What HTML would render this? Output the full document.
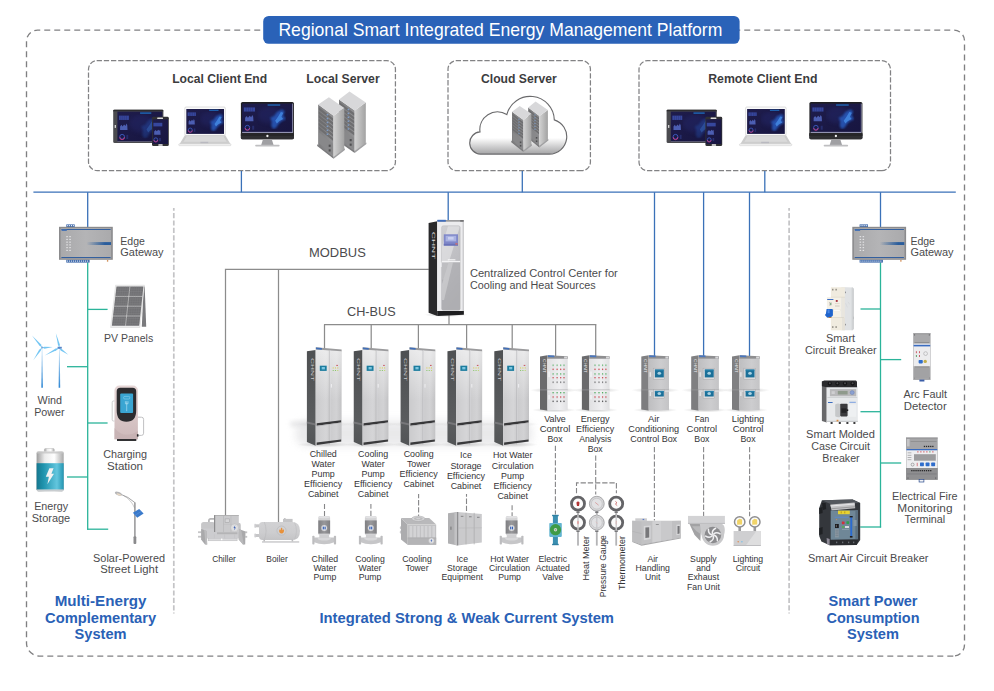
<!DOCTYPE html>
<html lang="en">
<head>
<meta charset="utf-8">
<title>Regional Smart Integrated Energy Management Platform</title>
<style>
html,body{margin:0;padding:0;background:#fff;}
body{width:994px;height:691px;overflow:hidden;font-family:"Liberation Sans",sans-serif;}
svg{display:block;}
svg text{font-family:"Liberation Sans",sans-serif;}
</style>
</head>
<body>
<svg width="994" height="691" viewBox="0 0 994 691">
<defs>
<linearGradient id="gCloud" x1="0" y1="0" x2="0" y2="1"><stop offset="0" stop-color="#fff"/><stop offset="0.72" stop-color="#fff"/><stop offset="1" stop-color="#a4a4a6"/></linearGradient>
<linearGradient id="gSrvR" x1="0" y1="0" x2="1" y2="0"><stop offset="0" stop-color="#d2d2d2"/><stop offset="1" stop-color="#a2a2a2"/></linearGradient>
<linearGradient id="gSrvL" x1="0" y1="0" x2="1" y2="0"><stop offset="0" stop-color="#7c7c7e"/><stop offset="1" stop-color="#929294"/></linearGradient>
<linearGradient id="gScreen" x1="0" y1="0" x2="1" y2="1"><stop offset="0" stop-color="#1f1d4c"/><stop offset="1" stop-color="#171540"/></linearGradient>
<radialGradient id="gGlow" cx="0.5" cy="0.5" r="0.5"><stop offset="0" stop-color="#3c7fe0" stop-opacity="0.95"/><stop offset="0.6" stop-color="#2b55b5" stop-opacity="0.5"/><stop offset="1" stop-color="#1f1d4c" stop-opacity="0"/></radialGradient>
<linearGradient id="gGwBar" x1="0" y1="0" x2="1" y2="0"><stop offset="0" stop-color="#2a5d9c" stop-opacity="0"/><stop offset="0.75" stop-color="#2a5d9c" stop-opacity="1"/><stop offset="1" stop-color="#2a5d9c"/></linearGradient>
<linearGradient id="gGw" x1="0" y1="0" x2="1" y2="0"><stop offset="0" stop-color="#a9a9ab"/><stop offset="0.5" stop-color="#b4b4b6"/><stop offset="1" stop-color="#aaaaac"/></linearGradient>
<linearGradient id="gPole" x1="0" y1="0" x2="0" y2="1"><stop offset="0" stop-color="#d8ecfa"/><stop offset="1" stop-color="#2f87d4"/></linearGradient>
<linearGradient id="gBatt" x1="0" y1="0" x2="1" y2="0"><stop offset="0" stop-color="#16778f"/><stop offset="0.25" stop-color="#1f93ad"/><stop offset="0.75" stop-color="#63c6de"/><stop offset="1" stop-color="#2395b1"/></linearGradient>
<linearGradient id="gBattTop" x1="0" y1="0" x2="1" y2="0"><stop offset="0" stop-color="#9c9c9c"/><stop offset="0.3" stop-color="#ececec"/><stop offset="0.65" stop-color="#ffffff"/><stop offset="1" stop-color="#a8a8a8"/></linearGradient>
<linearGradient id="gCharge" x1="0" y1="0" x2="0" y2="1"><stop offset="0" stop-color="#e6d6d6"/><stop offset="1" stop-color="#cdb9ba"/></linearGradient>
<linearGradient id="gCabF" x1="0" y1="0" x2="1" y2="0"><stop offset="0" stop-color="#cbcbcd"/><stop offset="0.4" stop-color="#d5d5d7"/><stop offset="0.55" stop-color="#cbcbcd"/><stop offset="0.8" stop-color="#d2d2d4"/><stop offset="1" stop-color="#c2c2c4"/></linearGradient>
<linearGradient id="gCabS" x1="0" y1="0" x2="0" y2="1"><stop offset="0" stop-color="#4e5052"/><stop offset="0.75" stop-color="#5a5c5e"/><stop offset="1" stop-color="#525456"/></linearGradient>
<linearGradient id="gBoxF" x1="0" y1="0" x2="1" y2="0"><stop offset="0" stop-color="#e0e0e2"/><stop offset="0.6" stop-color="#efeff1"/><stop offset="1" stop-color="#e0e0e2"/></linearGradient>
<linearGradient id="gBoxB" x1="0" y1="0" x2="1" y2="0"><stop offset="0" stop-color="#bebec0"/><stop offset="0.6" stop-color="#cdcdcf"/><stop offset="1" stop-color="#c4c4c6"/></linearGradient>
<radialGradient id="gShadow" cx="0.5" cy="0.5" r="0.5"><stop offset="0" stop-color="#9a9a9a" stop-opacity="0.55"/><stop offset="1" stop-color="#9a9a9a" stop-opacity="0"/></radialGradient>
<linearGradient id="gCent" x1="0" y1="0" x2="0.3" y2="1"><stop offset="0" stop-color="#d0d0d3"/><stop offset="0.4" stop-color="#c2c2c6"/><stop offset="1" stop-color="#b4b4b8"/></linearGradient>
<linearGradient id="gCyl" x1="0" y1="0" x2="0" y2="1"><stop offset="0" stop-color="#d2d2d4"/><stop offset="0.6" stop-color="#cdcdcf"/><stop offset="1" stop-color="#c4c4c6"/></linearGradient>
<linearGradient id="gMotor" x1="0" y1="0" x2="1" y2="0"><stop offset="0" stop-color="#7f7f82"/><stop offset="0.5" stop-color="#98989b"/><stop offset="1" stop-color="#808083"/></linearGradient>
<linearGradient id="gSilver" x1="0" y1="0" x2="0" y2="1"><stop offset="0" stop-color="#d8d8d8"/><stop offset="1" stop-color="#a8a8a8"/></linearGradient>
<filter id="fBlur0" x="-30%" y="-30%" width="160%" height="160%"><feGaussianBlur stdDeviation="0.5"/></filter>
<filter id="fBlur1" x="-30%" y="-30%" width="160%" height="160%"><feGaussianBlur stdDeviation="1.0"/></filter>
<filter id="fBlur2" x="-40%" y="-40%" width="180%" height="180%"><feGaussianBlur stdDeviation="2.2"/></filter>
<linearGradient id="gHi" x1="0" y1="0" x2="0" y2="1"><stop offset="0" stop-color="#fff" stop-opacity="0.55"/><stop offset="1" stop-color="#fff" stop-opacity="0"/></linearGradient>
<filter id="fBlur3" x="-20%" y="-60%" width="140%" height="220%"><feGaussianBlur stdDeviation="4.5"/></filter>
</defs>
<path d="M953.3,656.1 H39.5 A13,13 0 0 1 26.5,643.1 V41.1 A11,11 0 0 1 37.5,30.1 H953.8 A10.7,10.7 0 0 1 964.5,40.8 V644.6 A11.5,11.5 0 0 1 954.8,656" fill="none" stroke="#808082" stroke-width="1.35" stroke-dasharray="6 4"/>
<rect x="263.2" y="16" width="476.4" height="27.8" rx="5.5" fill="#2a62b8"/>
<text x="278.4" y="36" font-size="19" text-anchor="start" fill="#fff" textLength="444.0" lengthAdjust="spacingAndGlyphs">Regional Smart Integrated Energy Management Platform</text>
<path d="M386.73,170.67 H97.20 A8.7,8.7 0 0 1 88.5,161.97 V69.30 A8.7,8.7 0 0 1 97.20,60.6 H386.73 A8.7,8.7 0 0 1 395.43,69.30 V161.97 A8.7,8.7 0 0 1 386.73,170.67" fill="none" stroke="#828284" stroke-width="1.25" stroke-dasharray="5.3 1.872"/>
<path d="M581.72,170.67 H456.70 A8.7,8.7 0 0 1 448.0,161.97 V69.30 A8.7,8.7 0 0 1 456.70,60.6 H581.72 A8.7,8.7 0 0 1 590.42,69.30 V161.97 A8.7,8.7 0 0 1 581.72,170.67" fill="none" stroke="#828284" stroke-width="1.25" stroke-dasharray="5.3 1.872"/>
<path d="M881.80,170.67 H647.70 A8.7,8.7 0 0 1 639.0,161.97 V69.30 A8.7,8.7 0 0 1 647.70,60.6 H881.80 A8.7,8.7 0 0 1 890.5,69.30 V161.97 A8.7,8.7 0 0 1 881.80,170.67" fill="none" stroke="#828284" stroke-width="1.25" stroke-dasharray="5.3 1.872"/>
<text x="172.2" y="83" font-size="13" text-anchor="start" fill="#3c3c3e" font-weight="bold" textLength="95.0" lengthAdjust="spacingAndGlyphs">Local Client End</text>
<text x="306.2" y="83" font-size="13" text-anchor="start" fill="#3c3c3e" font-weight="bold" textLength="73.5" lengthAdjust="spacingAndGlyphs">Local Server</text>
<text x="481.0" y="83" font-size="13" text-anchor="start" fill="#3c3c3e" font-weight="bold" textLength="75.7" lengthAdjust="spacingAndGlyphs">Cloud Server</text>
<text x="708.2" y="83" font-size="13" text-anchor="start" fill="#3c3c3e" font-weight="bold" textLength="109.3" lengthAdjust="spacingAndGlyphs">Remote Client End</text>
<line x1="33.4" y1="192.2" x2="955.8" y2="192.2" stroke="#3a71b8" stroke-width="1.3"/>
<line x1="241.4" y1="171.0" x2="241.4" y2="192.2" stroke="#3a71b8" stroke-width="1.3"/>
<line x1="522.3" y1="171.0" x2="522.3" y2="192.2" stroke="#3a71b8" stroke-width="1.3"/>
<line x1="764.8" y1="171.0" x2="764.8" y2="192.2" stroke="#3a71b8" stroke-width="1.3"/>
<line x1="87.7" y1="192.2" x2="87.7" y2="227.0" stroke="#3a71b8" stroke-width="1.3"/>
<line x1="880.5" y1="192.2" x2="880.5" y2="227.0" stroke="#3a71b8" stroke-width="1.3"/>
<line x1="448.2" y1="192.2" x2="448.2" y2="221.0" stroke="#3a71b8" stroke-width="1.3"/>
<line x1="654.5" y1="192.2" x2="654.5" y2="356.5" stroke="#3a71b8" stroke-width="1.3"/>
<line x1="703.6" y1="192.2" x2="703.6" y2="356.5" stroke="#3a71b8" stroke-width="1.3"/>
<line x1="749.5" y1="192.2" x2="749.5" y2="356.5" stroke="#3a71b8" stroke-width="1.3"/>
<line x1="173.8" y1="208.0" x2="173.8" y2="613.5" stroke="#c4c4c6" stroke-width="1.7" stroke-dasharray="5.2 2.2" stroke-dashoffset="2.4"/>
<line x1="789.1" y1="208.0" x2="789.1" y2="613.5" stroke="#c4c4c6" stroke-width="1.7" stroke-dasharray="5.2 2.2" stroke-dashoffset="2.4"/>
<line x1="87.7" y1="262.5" x2="87.7" y2="529.8" stroke="#2bb49a" stroke-width="1.3"/>
<line x1="87.7" y1="309.4" x2="107.6" y2="309.4" stroke="#2bb49a" stroke-width="1.3"/>
<line x1="67.0" y1="366.7" x2="87.7" y2="366.7" stroke="#2bb49a" stroke-width="1.3"/>
<line x1="87.7" y1="423.0" x2="107.6" y2="423.0" stroke="#2bb49a" stroke-width="1.3"/>
<line x1="67.0" y1="477.0" x2="87.7" y2="477.0" stroke="#2bb49a" stroke-width="1.3"/>
<line x1="87.1" y1="529.2" x2="108.2" y2="529.2" stroke="#2bb49a" stroke-width="1.3"/>
<line x1="880.5" y1="262.5" x2="880.5" y2="527.6" stroke="#2bb49a" stroke-width="1.3"/>
<line x1="860.5" y1="309.0" x2="880.5" y2="309.0" stroke="#2bb49a" stroke-width="1.3"/>
<line x1="880.5" y1="359.6" x2="901.2" y2="359.6" stroke="#2bb49a" stroke-width="1.3"/>
<line x1="860.5" y1="411.7" x2="880.5" y2="411.7" stroke="#2bb49a" stroke-width="1.3"/>
<line x1="880.5" y1="463.0" x2="901.2" y2="463.0" stroke="#2bb49a" stroke-width="1.3"/>
<line x1="860.2" y1="527.0" x2="881.1" y2="527.0" stroke="#2bb49a" stroke-width="1.3"/>
<polyline points="225.5,515.5 225.5,269.4 428.8,269.4" fill="none" stroke="#8c8c8c" stroke-width="1.25"/>
<line x1="278.5" y1="269.4" x2="278.5" y2="522.0" stroke="#8c8c8c" stroke-width="1.25"/>
<line x1="324.0" y1="324.5" x2="596.3" y2="324.5" stroke="#8c8c8c" stroke-width="1.25"/>
<line x1="324.5" y1="324.5" x2="324.5" y2="349.0" stroke="#8c8c8c" stroke-width="1.25"/>
<line x1="371.2" y1="324.5" x2="371.2" y2="349.0" stroke="#8c8c8c" stroke-width="1.25"/>
<line x1="418.4" y1="324.5" x2="418.4" y2="349.0" stroke="#8c8c8c" stroke-width="1.25"/>
<line x1="466.6" y1="324.5" x2="466.6" y2="349.0" stroke="#8c8c8c" stroke-width="1.25"/>
<line x1="512.2" y1="324.5" x2="512.2" y2="349.0" stroke="#8c8c8c" stroke-width="1.25"/>
<line x1="555.6" y1="324.5" x2="555.6" y2="356.5" stroke="#8c8c8c" stroke-width="1.25"/>
<line x1="595.7" y1="324.5" x2="595.7" y2="356.5" stroke="#8c8c8c" stroke-width="1.25"/>
<line x1="449.0" y1="315.0" x2="449.0" y2="324.5" stroke="#8c8c8c" stroke-width="1.25"/>
<text x="309.0" y="257" font-size="13.5" text-anchor="start" fill="#4b4b4d" textLength="56.8" lengthAdjust="spacingAndGlyphs">MODBUS</text>
<text x="347.0" y="316" font-size="13.5" text-anchor="start" fill="#4b4b4d" textLength="48.6" lengthAdjust="spacingAndGlyphs">CH-BUS</text>
<text x="469.9" y="277" font-size="11.7" text-anchor="start" fill="#4b4b4d" textLength="147.9" lengthAdjust="spacingAndGlyphs">Centralized Control Center for</text>
<text x="469.9" y="289" font-size="11.7" text-anchor="start" fill="#4b4b4d" textLength="125.8" lengthAdjust="spacingAndGlyphs">Cooling and Heat Sources</text>
<text x="100.6" y="606" font-size="15" text-anchor="middle" fill="#2a61b6" font-weight="bold" textLength="91.8" lengthAdjust="spacingAndGlyphs">Multi-Energy</text>
<text x="100.6" y="623" font-size="15" text-anchor="middle" fill="#2a61b6" font-weight="bold" textLength="111.1" lengthAdjust="spacingAndGlyphs">Complementary</text>
<text x="100.6" y="639" font-size="15" text-anchor="middle" fill="#2a61b6" font-weight="bold" textLength="52.0" lengthAdjust="spacingAndGlyphs">System</text>
<text x="873.0" y="606" font-size="15" text-anchor="middle" fill="#2a61b6" font-weight="bold" textLength="89.0" lengthAdjust="spacingAndGlyphs">Smart Power</text>
<text x="873.0" y="623" font-size="15" text-anchor="middle" fill="#2a61b6" font-weight="bold" textLength="93.0" lengthAdjust="spacingAndGlyphs">Consumption</text>
<text x="873.0" y="639" font-size="15" text-anchor="middle" fill="#2a61b6" font-weight="bold" textLength="52.0" lengthAdjust="spacingAndGlyphs">System</text>
<text x="319.4" y="623" font-size="15" text-anchor="start" fill="#2a61b6" font-weight="bold" textLength="294.6" lengthAdjust="spacingAndGlyphs">Integrated Strong &amp; Weak Current System</text>
<rect x="113.20" y="109.8" width="50.2" height="33.3" rx="1.4" fill="#4b4b4f"/>
<rect x="113.20" y="109.8" width="50.2" height="1.4" rx="0.7" fill="#2c2c2e"/>
<rect x="117.40" y="111.60" width="44.90" height="29.80" fill="url(#gScreen)"/>
<g clip-path="inset(0)" >
<svg x="117.40" y="111.60" width="44.90" height="29.80" viewBox="0 0 44.90 29.80" overflow="hidden">
<ellipse cx="24.25" cy="11.92" rx="12.52" ry="8.94" fill="#2a3080" opacity="0.28" filter="url(#fBlur2)"/>
<polygon points="24.87,23.84 25.47,18.48 23.68,14.90 27.85,13.11 30.83,8.94 36.20,5.96 39.18,8.05 37.39,12.52 40.37,16.09 35.60,18.48 32.62,21.46 30.24,25.03 27.26,26.82" fill="#2a66d2" opacity="0.29" filter="url(#fBlur1)"/>
<polygon points="29.05,17.88 32.03,13.71 35.01,8.94 37.69,9.54 35.60,13.71 37.39,16.09 33.22,18.48 30.83,20.86" fill="#4a94ee" opacity="0.28" filter="url(#fBlur0)"/>
</svg></g>
<rect x="140.07" y="112.49" width="11.22" height="1.19" fill="#1f80d8" opacity="0.9"/>
<rect x="118.97" y="115.62" width="9.88" height="4.32" fill="#3a4ca6" opacity="0.9"/>
<rect x="120.80" y="115.62" width="0.30" height="4.32" fill="#232058" opacity="0.8"/>
<rect x="122.77" y="115.62" width="0.30" height="4.32" fill="#232058" opacity="0.8"/>
<rect x="124.75" y="115.62" width="0.30" height="4.32" fill="#232058" opacity="0.8"/>
<rect x="126.72" y="115.62" width="0.30" height="4.32" fill="#232058" opacity="0.8"/>
<polygon points="120.09,130.08 120.09,126.50 121.44,124.71 122.56,126.50 124.14,124.41 125.48,125.90 126.38,123.52 127.28,125.31 127.50,130.08" fill="#5266be" opacity="0.9"/>
<circle cx="122.11" cy="136.78" r="2.38" fill="none" stroke="#3f5fc8" stroke-width="0.89"/>
<path d="M119.73,137.26 a2.38,2.38 0 0 0 4.77,0" fill="none" stroke="#d23a7c" stroke-width="0.89"/>
<rect x="126.38" y="134.84" width="1.80" height="4.17" fill="#2f3a86" opacity="0.6"/>
<rect x="117.40" y="141.00" width="44.90" height="0.60" fill="#6f6f8a"/>
<rect x="114.70" y="125.00" width="1.20" height="2.90" fill="#e4e4e4"/>
<rect x="152.00" y="116.8" width="16.8" height="29.3" rx="1.4" fill="#303033"/>
<rect x="152.80" y="119.30" width="15.20" height="24.70" fill="url(#gScreen)"/>
<rect x="153.40" y="122.80" width="8.90" height="3.60" fill="#3a4ca6" opacity="0.9"/>
<polygon points="154.20,134.70 154.20,131.40 155.60,130.00 156.80,131.20 158.20,129.70 159.40,130.80 160.20,129.80 160.60,134.70" fill="#5266be" opacity="0.9"/>
<circle cx="155.80" cy="139.7" r="1.9" fill="none" stroke="#3f5fc8" stroke-width="0.8"/>
<path d="M153.90,140.1 a1.9,1.9 0 0 0 3.8,0" fill="none" stroke="#d23a7c" stroke-width="0.8"/>
<rect x="159.20" y="138.00" width="1.60" height="3.20" fill="#2f3a86" opacity="0.7"/>
<rect x="157.20" y="117.4" width="5.8" height="1.5" rx="0.5" fill="#d9d9d9"/>
<rect x="158.30" y="144.3" width="4.4" height="1.4" rx="0.5" fill="#f0f0f0"/>
<rect x="184.80" y="107.0" width="40.5" height="28.4" rx="1.2" fill="#fbfbfb" stroke="#cbcbcb" stroke-width="0.6"/>
<rect x="186.30" y="109.00" width="37.70" height="24.90" fill="url(#gScreen)"/>
<g clip-path="inset(0)" >
<svg x="186.30" y="109.00" width="37.70" height="24.90" viewBox="0 0 37.70 24.90" overflow="hidden">
<ellipse cx="24.13" cy="9.96" rx="10.46" ry="7.47" fill="#2a3080" opacity="0.28" filter="url(#fBlur2)"/>
<polygon points="24.68,19.92 25.18,15.44 23.69,12.45 27.17,10.96 29.66,7.47 34.14,4.98 36.63,6.72 35.14,10.46 37.63,13.45 33.65,15.44 31.16,17.93 29.16,20.92 26.67,22.41" fill="#2a66d2" opacity="0.72" filter="url(#fBlur1)"/>
<polygon points="28.17,14.94 30.66,11.45 33.15,7.47 35.39,7.97 33.65,11.45 35.14,13.45 31.65,15.44 29.66,17.43" fill="#4a94ee" opacity="0.70" filter="url(#fBlur0)"/>
</svg></g>
<rect x="209.11" y="109.75" width="9.43" height="1.00" fill="#1f80d8" opacity="0.9"/>
<rect x="187.62" y="112.36" width="8.29" height="3.61" fill="#3a4ca6" opacity="0.9"/>
<rect x="189.13" y="112.36" width="0.30" height="3.61" fill="#232058" opacity="0.8"/>
<rect x="190.79" y="112.36" width="0.30" height="3.61" fill="#232058" opacity="0.8"/>
<rect x="192.45" y="112.36" width="0.30" height="3.61" fill="#232058" opacity="0.8"/>
<rect x="194.10" y="112.36" width="0.30" height="3.61" fill="#232058" opacity="0.8"/>
<polygon points="188.56,124.44 188.56,121.45 189.69,119.96 190.64,121.45 191.96,119.71 193.09,120.95 193.84,118.96 194.59,120.45 194.78,124.44" fill="#5266be" opacity="0.9"/>
<circle cx="190.26" cy="130.04" r="1.99" fill="none" stroke="#3f5fc8" stroke-width="0.75"/>
<path d="M188.27,130.44 a1.99,1.99 0 0 0 3.98,0" fill="none" stroke="#d23a7c" stroke-width="0.75"/>
<rect x="193.84" y="128.42" width="1.51" height="3.49" fill="#2f3a86" opacity="0.6"/>
<polygon points="184.80,135.30 225.30,135.30 230.40,144.00 179.60,144.00" fill="#cdcdcd"/>
<polygon points="186.60,136.60 223.60,136.60 226.60,141.40 183.60,141.40" fill="#e2e2e2"/>
<line x1="185.1" y1="137.8" x2="225.2" y2="137.8" stroke="#c4c4c4" stroke-width="0.4"/>
<line x1="184.3" y1="139.0" x2="225.9" y2="139.0" stroke="#c4c4c4" stroke-width="0.4"/>
<line x1="183.6" y1="140.2" x2="226.7" y2="140.2" stroke="#c4c4c4" stroke-width="0.4"/>
<rect x="200.40" y="141.80" width="7.80" height="1.70" fill="#b9b9c0"/>
<rect x="178.70" y="143.8" width="52.3" height="1.9" rx="0.9" fill="#f4f4f4" stroke="#c6c6c6" stroke-width="0.45"/>
<rect x="240.90" y="102.0" width="53.0" height="37.2" rx="1.6" fill="#1f1f22"/>
<rect x="242.10" y="103.60" width="50.50" height="28.40" fill="url(#gScreen)"/>
<g clip-path="inset(0)" >
<svg x="242.10" y="103.60" width="50.50" height="28.40" viewBox="0 0 50.50 28.40" overflow="hidden">
<ellipse cx="27.27" cy="11.36" rx="11.93" ry="8.52" fill="#2a3080" opacity="0.28" filter="url(#fBlur2)"/>
<polygon points="29.10,22.72 29.67,17.61 27.97,14.20 31.94,12.50 34.78,8.52 39.89,5.68 42.73,7.67 41.03,11.93 43.87,15.34 39.33,17.61 36.49,20.45 34.21,23.86 31.37,25.56" fill="#2a66d2" opacity="0.72" filter="url(#fBlur1)"/>
<polygon points="33.08,17.04 35.92,13.06 38.76,8.52 41.31,9.09 39.33,13.06 41.03,15.34 37.05,17.61 34.78,19.88" fill="#4a94ee" opacity="0.70" filter="url(#fBlur0)"/>
</svg></g>
<rect x="267.60" y="104.45" width="12.62" height="1.14" fill="#1f80d8" opacity="0.9"/>
<rect x="243.87" y="107.43" width="11.11" height="4.12" fill="#3a4ca6" opacity="0.9"/>
<rect x="245.94" y="107.43" width="0.30" height="4.12" fill="#232058" opacity="0.8"/>
<rect x="248.16" y="107.43" width="0.30" height="4.12" fill="#232058" opacity="0.8"/>
<rect x="250.38" y="107.43" width="0.30" height="4.12" fill="#232058" opacity="0.8"/>
<rect x="252.61" y="107.43" width="0.30" height="4.12" fill="#232058" opacity="0.8"/>
<polygon points="245.13,121.21 245.13,117.80 246.64,116.10 247.91,117.80 249.67,115.81 251.19,117.23 252.20,114.96 253.21,116.66 253.46,121.21" fill="#5266be" opacity="0.9"/>
<circle cx="247.40" cy="127.60" r="2.27" fill="none" stroke="#3f5fc8" stroke-width="0.85"/>
<path d="M245.13,128.05 a2.27,2.27 0 0 0 4.54,0" fill="none" stroke="#d23a7c" stroke-width="0.85"/>
<rect x="252.20" y="125.75" width="2.02" height="3.98" fill="#2f3a86" opacity="0.6"/>
<rect x="242.10" y="131.90" width="50.80" height="0.90" fill="#aeb0d6"/>
<rect x="292.40" y="103.60" width="0.60" height="28.80" fill="#b9bbdc"/>
<rect x="240.90" y="133.2" width="53.0" height="6.0" rx="1.2" fill="#2f2f32"/>
<rect x="240.90" y="133.00" width="53.00" height="3.00" fill="#262628"/>
<circle cx="267.40" cy="136.00" r="1.15" fill="#f4f4f4"/>
<polygon points="263.00,139.20 271.80,139.20 273.60,145.00 261.20,145.00" fill="#a0a0a3"/>
<rect x="255.20" y="144.7" width="24.4" height="1.8" rx="0.8" fill="#bfbfc1"/>
<rect x="666.60" y="109.8" width="50.2" height="33.3" rx="1.4" fill="#4b4b4f"/>
<rect x="666.60" y="109.8" width="50.2" height="1.4" rx="0.7" fill="#2c2c2e"/>
<rect x="670.80" y="111.60" width="44.90" height="29.80" fill="url(#gScreen)"/>
<g clip-path="inset(0)" >
<svg x="670.80" y="111.60" width="44.90" height="29.80" viewBox="0 0 44.90 29.80" overflow="hidden">
<ellipse cx="24.25" cy="11.92" rx="12.52" ry="8.94" fill="#2a3080" opacity="0.28" filter="url(#fBlur2)"/>
<polygon points="24.87,23.84 25.47,18.48 23.68,14.90 27.85,13.11 30.83,8.94 36.20,5.96 39.18,8.05 37.39,12.52 40.37,16.09 35.60,18.48 32.62,21.46 30.24,25.03 27.26,26.82" fill="#2a66d2" opacity="0.29" filter="url(#fBlur1)"/>
<polygon points="29.05,17.88 32.03,13.71 35.01,8.94 37.69,9.54 35.60,13.71 37.39,16.09 33.22,18.48 30.83,20.86" fill="#4a94ee" opacity="0.28" filter="url(#fBlur0)"/>
</svg></g>
<rect x="693.47" y="112.49" width="11.22" height="1.19" fill="#1f80d8" opacity="0.9"/>
<rect x="672.37" y="115.62" width="9.88" height="4.32" fill="#3a4ca6" opacity="0.9"/>
<rect x="674.20" y="115.62" width="0.30" height="4.32" fill="#232058" opacity="0.8"/>
<rect x="676.17" y="115.62" width="0.30" height="4.32" fill="#232058" opacity="0.8"/>
<rect x="678.15" y="115.62" width="0.30" height="4.32" fill="#232058" opacity="0.8"/>
<rect x="680.12" y="115.62" width="0.30" height="4.32" fill="#232058" opacity="0.8"/>
<polygon points="673.49,130.08 673.49,126.50 674.84,124.71 675.96,126.50 677.53,124.41 678.88,125.90 679.78,123.52 680.68,125.31 680.90,130.08" fill="#5266be" opacity="0.9"/>
<circle cx="675.51" cy="136.78" r="2.38" fill="none" stroke="#3f5fc8" stroke-width="0.89"/>
<path d="M673.13,137.26 a2.38,2.38 0 0 0 4.77,0" fill="none" stroke="#d23a7c" stroke-width="0.89"/>
<rect x="679.78" y="134.84" width="1.80" height="4.17" fill="#2f3a86" opacity="0.6"/>
<rect x="670.80" y="141.00" width="44.90" height="0.60" fill="#6f6f8a"/>
<rect x="668.10" y="125.00" width="1.20" height="2.90" fill="#e4e4e4"/>
<rect x="705.40" y="116.8" width="16.8" height="29.3" rx="1.4" fill="#303033"/>
<rect x="706.20" y="119.30" width="15.20" height="24.70" fill="url(#gScreen)"/>
<rect x="706.80" y="122.80" width="8.90" height="3.60" fill="#3a4ca6" opacity="0.9"/>
<polygon points="707.60,134.70 707.60,131.40 709.00,130.00 710.20,131.20 711.60,129.70 712.80,130.80 713.60,129.80 714.00,134.70" fill="#5266be" opacity="0.9"/>
<circle cx="709.20" cy="139.7" r="1.9" fill="none" stroke="#3f5fc8" stroke-width="0.8"/>
<path d="M707.30,140.1 a1.9,1.9 0 0 0 3.8,0" fill="none" stroke="#d23a7c" stroke-width="0.8"/>
<rect x="712.60" y="138.00" width="1.60" height="3.20" fill="#2f3a86" opacity="0.7"/>
<rect x="710.60" y="117.4" width="5.8" height="1.5" rx="0.5" fill="#d9d9d9"/>
<rect x="711.70" y="144.3" width="4.4" height="1.4" rx="0.5" fill="#f0f0f0"/>
<rect x="745.60" y="107.0" width="40.5" height="28.4" rx="1.2" fill="#fbfbfb" stroke="#cbcbcb" stroke-width="0.6"/>
<rect x="747.10" y="109.00" width="37.70" height="24.90" fill="url(#gScreen)"/>
<g clip-path="inset(0)" >
<svg x="747.10" y="109.00" width="37.70" height="24.90" viewBox="0 0 37.70 24.90" overflow="hidden">
<ellipse cx="24.13" cy="9.96" rx="10.46" ry="7.47" fill="#2a3080" opacity="0.28" filter="url(#fBlur2)"/>
<polygon points="24.68,19.92 25.18,15.44 23.69,12.45 27.17,10.96 29.66,7.47 34.14,4.98 36.63,6.72 35.14,10.46 37.63,13.45 33.65,15.44 31.16,17.93 29.16,20.92 26.67,22.41" fill="#2a66d2" opacity="0.72" filter="url(#fBlur1)"/>
<polygon points="28.17,14.94 30.66,11.45 33.15,7.47 35.39,7.97 33.65,11.45 35.14,13.45 31.65,15.44 29.66,17.43" fill="#4a94ee" opacity="0.70" filter="url(#fBlur0)"/>
</svg></g>
<rect x="769.91" y="109.75" width="9.43" height="1.00" fill="#1f80d8" opacity="0.9"/>
<rect x="748.42" y="112.36" width="8.29" height="3.61" fill="#3a4ca6" opacity="0.9"/>
<rect x="749.93" y="112.36" width="0.30" height="3.61" fill="#232058" opacity="0.8"/>
<rect x="751.59" y="112.36" width="0.30" height="3.61" fill="#232058" opacity="0.8"/>
<rect x="753.25" y="112.36" width="0.30" height="3.61" fill="#232058" opacity="0.8"/>
<rect x="754.90" y="112.36" width="0.30" height="3.61" fill="#232058" opacity="0.8"/>
<polygon points="749.36,124.44 749.36,121.45 750.49,119.96 751.44,121.45 752.75,119.71 753.89,120.95 754.64,118.96 755.39,120.45 755.58,124.44" fill="#5266be" opacity="0.9"/>
<circle cx="751.06" cy="130.04" r="1.99" fill="none" stroke="#3f5fc8" stroke-width="0.75"/>
<path d="M749.07,130.44 a1.99,1.99 0 0 0 3.98,0" fill="none" stroke="#d23a7c" stroke-width="0.75"/>
<rect x="754.64" y="128.42" width="1.51" height="3.49" fill="#2f3a86" opacity="0.6"/>
<polygon points="745.60,135.30 786.10,135.30 791.20,144.00 740.40,144.00" fill="#cdcdcd"/>
<polygon points="747.40,136.60 784.40,136.60 787.40,141.40 744.40,141.40" fill="#e2e2e2"/>
<line x1="745.8" y1="137.8" x2="785.9" y2="137.8" stroke="#c4c4c4" stroke-width="0.4"/>
<line x1="745.1" y1="139.0" x2="786.7" y2="139.0" stroke="#c4c4c4" stroke-width="0.4"/>
<line x1="744.3" y1="140.2" x2="787.4" y2="140.2" stroke="#c4c4c4" stroke-width="0.4"/>
<rect x="761.20" y="141.80" width="7.80" height="1.70" fill="#b9b9c0"/>
<rect x="739.50" y="143.8" width="52.3" height="1.9" rx="0.9" fill="#f4f4f4" stroke="#c6c6c6" stroke-width="0.45"/>
<rect x="809.40" y="102.0" width="53.0" height="37.2" rx="1.6" fill="#1f1f22"/>
<rect x="810.60" y="103.60" width="50.50" height="28.40" fill="url(#gScreen)"/>
<g clip-path="inset(0)" >
<svg x="810.60" y="103.60" width="50.50" height="28.40" viewBox="0 0 50.50 28.40" overflow="hidden">
<ellipse cx="27.27" cy="11.36" rx="11.93" ry="8.52" fill="#2a3080" opacity="0.28" filter="url(#fBlur2)"/>
<polygon points="29.10,22.72 29.67,17.61 27.97,14.20 31.94,12.50 34.78,8.52 39.89,5.68 42.73,7.67 41.03,11.93 43.87,15.34 39.33,17.61 36.49,20.45 34.21,23.86 31.37,25.56" fill="#2a66d2" opacity="0.72" filter="url(#fBlur1)"/>
<polygon points="33.08,17.04 35.92,13.06 38.76,8.52 41.31,9.09 39.33,13.06 41.03,15.34 37.05,17.61 34.78,19.88" fill="#4a94ee" opacity="0.70" filter="url(#fBlur0)"/>
</svg></g>
<rect x="836.10" y="104.45" width="12.62" height="1.14" fill="#1f80d8" opacity="0.9"/>
<rect x="812.37" y="107.43" width="11.11" height="4.12" fill="#3a4ca6" opacity="0.9"/>
<rect x="814.44" y="107.43" width="0.30" height="4.12" fill="#232058" opacity="0.8"/>
<rect x="816.66" y="107.43" width="0.30" height="4.12" fill="#232058" opacity="0.8"/>
<rect x="818.88" y="107.43" width="0.30" height="4.12" fill="#232058" opacity="0.8"/>
<rect x="821.11" y="107.43" width="0.30" height="4.12" fill="#232058" opacity="0.8"/>
<polygon points="813.63,121.21 813.63,117.80 815.14,116.10 816.41,117.80 818.18,115.81 819.69,117.23 820.70,114.96 821.71,116.66 821.96,121.21" fill="#5266be" opacity="0.9"/>
<circle cx="815.90" cy="127.60" r="2.27" fill="none" stroke="#3f5fc8" stroke-width="0.85"/>
<path d="M813.63,128.05 a2.27,2.27 0 0 0 4.54,0" fill="none" stroke="#d23a7c" stroke-width="0.85"/>
<rect x="820.70" y="125.75" width="2.02" height="3.98" fill="#2f3a86" opacity="0.6"/>
<rect x="810.60" y="131.90" width="50.80" height="0.90" fill="#aeb0d6"/>
<rect x="860.90" y="103.60" width="0.60" height="28.80" fill="#b9bbdc"/>
<rect x="809.40" y="133.2" width="53.0" height="6.0" rx="1.2" fill="#2f2f32"/>
<rect x="809.40" y="133.00" width="53.00" height="3.00" fill="#262628"/>
<circle cx="835.90" cy="136.00" r="1.15" fill="#f4f4f4"/>
<polygon points="831.50,139.20 840.30,139.20 842.10,145.00 829.70,145.00" fill="#a0a0a3"/>
<rect x="823.70" y="144.7" width="24.4" height="1.8" rx="0.8" fill="#bfbfc1"/>
<polygon points="339.00,99.50 354.70,110.60 354.70,152.30 339.00,141.00" fill="url(#gSrvL)"/>
<polygon points="354.70,110.60 365.80,102.40 365.80,143.80 354.70,152.30" fill="url(#gSrvR)"/>
<polygon points="339.00,99.50 349.50,91.50 365.80,102.40 354.70,110.60" fill="#d8d8da"/>
<polygon points="339.60,102.29 354.10,113.00 354.10,115.80 339.60,105.08" fill="#6e6e70"/>
<rect x="347.63" y="108.80" width="1.60" height="1.50" fill="#7f9cc4"/>
<polygon points="339.60,106.16 354.10,116.89 354.10,119.70 339.60,108.95" fill="#6e6e70"/>
<rect x="347.63" y="112.68" width="1.60" height="1.50" fill="#7f9cc4"/>
<polygon points="339.60,110.04 354.10,120.79 354.10,123.59 339.60,112.83" fill="#6e6e70"/>
<rect x="347.63" y="116.57" width="1.60" height="1.50" fill="#7f9cc4"/>
<polygon points="339.60,113.91 354.10,124.68 354.10,127.48 339.60,116.70" fill="#6e6e70"/>
<rect x="347.63" y="120.45" width="1.60" height="1.50" fill="#7f9cc4"/>
<polygon points="339.60,117.78 354.10,128.57 354.10,131.37 339.60,120.57" fill="#6e6e70"/>
<rect x="347.63" y="124.33" width="1.60" height="1.50" fill="#7f9cc4"/>
<polygon points="339.60,121.66 354.10,132.46 354.10,135.26 339.60,124.45" fill="#6e6e70"/>
<rect x="347.63" y="128.22" width="1.60" height="1.50" fill="#7f9cc4"/>
<polygon points="339.80,127.29 353.90,138.12 353.90,149.38 339.80,138.40" fill="#88888a"/>
<rect x="349.68" y="139.01" width="2.00" height="2.20" fill="#505052"/>
<rect x="349.68" y="143.59" width="2.00" height="2.20" fill="#505052"/>
<polygon points="338.00,139.40 354.70,151.10 354.70,152.90 338.00,141.20" fill="#7a7a7c"/>
<polygon points="354.70,151.10 366.40,142.40 366.40,144.00 354.70,152.90" fill="#a0a0a2"/>
<polygon points="318.20,104.50 333.60,115.80 333.60,158.10 318.20,145.80" fill="url(#gSrvL)"/>
<polygon points="333.60,115.80 344.30,108.00 344.30,149.70 333.60,158.10" fill="url(#gSrvR)"/>
<polygon points="318.20,104.50 328.90,97.20 344.30,108.00 333.60,115.80" fill="#d8d8da"/>
<polygon points="318.80,107.28 333.00,118.24 333.00,121.08 318.80,110.05" fill="#6e6e70"/>
<rect x="326.67" y="113.93" width="1.60" height="1.50" fill="#7f9cc4"/>
<polygon points="318.80,111.13 333.00,122.19 333.00,125.03 318.80,113.91" fill="#6e6e70"/>
<rect x="326.67" y="117.84" width="1.60" height="1.50" fill="#7f9cc4"/>
<polygon points="318.80,114.99 333.00,126.13 333.00,128.98 318.80,117.76" fill="#6e6e70"/>
<rect x="326.67" y="121.74" width="1.60" height="1.50" fill="#7f9cc4"/>
<polygon points="318.80,118.84 333.00,130.08 333.00,132.92 318.80,121.62" fill="#6e6e70"/>
<rect x="326.67" y="125.65" width="1.60" height="1.50" fill="#7f9cc4"/>
<polygon points="318.80,122.70 333.00,134.03 333.00,136.87 318.80,125.47" fill="#6e6e70"/>
<rect x="326.67" y="129.56" width="1.60" height="1.50" fill="#7f9cc4"/>
<polygon points="318.80,126.55 333.00,137.98 333.00,140.82 318.80,129.33" fill="#6e6e70"/>
<rect x="326.67" y="133.46" width="1.60" height="1.50" fill="#7f9cc4"/>
<polygon points="319.00,132.16 332.80,143.72 332.80,155.14 319.00,143.21" fill="#88888a"/>
<rect x="328.67" y="144.63" width="2.00" height="2.20" fill="#505052"/>
<rect x="328.67" y="149.29" width="2.00" height="2.20" fill="#505052"/>
<polygon points="317.20,144.20 333.60,156.90 333.60,158.70 317.20,146.00" fill="#7a7a7c"/>
<polygon points="333.60,156.90 344.90,148.30 344.90,149.90 333.60,158.70" fill="#a0a0a2"/>
<path d="M480.4,154.1 H549.3 A17.5,17.5 0 0 0 554.3,119.85 A24.12,24.12 0 0 0 506.8,114.6 A17.6,17.6 0 0 0 480.0,131.9 A11.12,11.12 0 0 0 480.4,154.1 Z" fill="url(#gCloud)" stroke="#6a6a6c" stroke-width="1.15"/>
<polygon points="528.20,107.50 539.40,115.90 539.40,146.90 528.20,137.50" fill="url(#gSrvL)"/>
<polygon points="539.40,115.90 547.90,109.90 547.90,140.30 539.40,146.90" fill="url(#gSrvR)"/>
<polygon points="528.20,107.50 535.60,101.40 547.90,109.90 539.40,115.90" fill="#d8d8da"/>
<polygon points="528.65,109.60 538.95,117.66 538.95,119.74 528.65,111.62" fill="#6e6e70"/>
<rect x="534.36" y="114.45" width="1.20" height="1.12" fill="#7f9cc4"/>
<polygon points="528.65,112.40 538.95,120.55 538.95,122.64 528.65,114.42" fill="#6e6e70"/>
<rect x="534.36" y="117.31" width="1.20" height="1.12" fill="#7f9cc4"/>
<polygon points="528.65,115.20 538.95,123.45 538.95,125.53 528.65,117.22" fill="#6e6e70"/>
<rect x="534.36" y="120.16" width="1.20" height="1.12" fill="#7f9cc4"/>
<polygon points="528.65,118.00 538.95,126.34 538.95,128.42 528.65,120.02" fill="#6e6e70"/>
<rect x="534.36" y="123.01" width="1.20" height="1.12" fill="#7f9cc4"/>
<polygon points="528.65,120.80 538.95,129.23 538.95,131.32 528.65,122.82" fill="#6e6e70"/>
<rect x="534.36" y="125.86" width="1.20" height="1.12" fill="#7f9cc4"/>
<polygon points="528.65,123.60 538.95,132.13 538.95,134.21 528.65,125.62" fill="#6e6e70"/>
<rect x="534.36" y="128.71" width="1.20" height="1.12" fill="#7f9cc4"/>
<polygon points="528.80,127.70 538.80,136.36 538.80,144.73 528.80,135.70" fill="#88888a"/>
<rect x="535.82" y="137.01" width="1.50" height="1.65" fill="#505052"/>
<rect x="535.82" y="140.42" width="1.50" height="1.65" fill="#505052"/>
<polygon points="527.45,135.90 539.40,145.70 539.40,147.50 527.45,137.70" fill="#7a7a7c"/>
<polygon points="539.40,145.70 548.35,138.90 548.35,140.50 539.40,147.50" fill="#a0a0a2"/>
<polygon points="512.00,111.70 523.50,120.10 523.50,151.50 512.00,142.00" fill="url(#gSrvL)"/>
<polygon points="523.50,120.10 531.40,113.80 531.40,145.50 523.50,151.50" fill="url(#gSrvR)"/>
<polygon points="512.00,111.70 519.70,106.00 531.40,113.80 523.50,120.10" fill="#d8d8da"/>
<polygon points="512.45,113.82 523.05,121.88 523.05,123.99 512.45,115.85" fill="#6e6e70"/>
<rect x="518.33" y="118.69" width="1.20" height="1.12" fill="#7f9cc4"/>
<polygon points="512.45,116.65 523.05,124.81 523.05,126.92 512.45,118.68" fill="#6e6e70"/>
<rect x="518.33" y="121.57" width="1.20" height="1.12" fill="#7f9cc4"/>
<polygon points="512.45,119.47 523.05,127.75 523.05,129.86 512.45,121.51" fill="#6e6e70"/>
<rect x="518.33" y="124.46" width="1.20" height="1.12" fill="#7f9cc4"/>
<polygon points="512.45,122.30 523.05,130.68 523.05,132.79 512.45,124.34" fill="#6e6e70"/>
<rect x="518.33" y="127.34" width="1.20" height="1.12" fill="#7f9cc4"/>
<polygon points="512.45,125.13 523.05,133.61 523.05,135.72 512.45,127.17" fill="#6e6e70"/>
<rect x="518.33" y="130.23" width="1.20" height="1.12" fill="#7f9cc4"/>
<polygon points="512.45,127.96 523.05,136.54 523.05,138.65 512.45,129.99" fill="#6e6e70"/>
<rect x="518.33" y="133.11" width="1.20" height="1.12" fill="#7f9cc4"/>
<polygon points="512.60,132.10 522.90,140.82 522.90,149.30 512.60,140.18" fill="#88888a"/>
<rect x="519.82" y="141.49" width="1.50" height="1.65" fill="#505052"/>
<rect x="519.82" y="144.95" width="1.50" height="1.65" fill="#505052"/>
<polygon points="511.25,140.40 523.50,150.30 523.50,152.10 511.25,142.20" fill="#7a7a7c"/>
<polygon points="523.50,150.30 531.85,144.10 531.85,145.70 523.50,152.10" fill="#a0a0a2"/>
<rect x="66.30" y="224.40" width="8.40" height="2.60" fill="#3d68aa"/>
<rect x="67.20" y="225.00" width="1.00" height="1.20" fill="#e8eef8"/>
<rect x="69.10" y="225.00" width="1.00" height="1.20" fill="#e8eef8"/>
<rect x="71.00" y="225.00" width="1.00" height="1.20" fill="#e8eef8"/>
<rect x="72.90" y="225.00" width="1.00" height="1.20" fill="#e8eef8"/>
<rect x="66.30" y="259.60" width="23.30" height="3.00" fill="#3d68aa"/>
<rect x="67.10" y="260.50" width="1.00" height="1.20" fill="#e8eef8"/>
<rect x="69.10" y="260.50" width="1.00" height="1.20" fill="#e8eef8"/>
<rect x="71.10" y="260.50" width="1.00" height="1.20" fill="#e8eef8"/>
<rect x="73.10" y="260.50" width="1.00" height="1.20" fill="#e8eef8"/>
<rect x="75.10" y="260.50" width="1.00" height="1.20" fill="#e8eef8"/>
<rect x="77.10" y="260.50" width="1.00" height="1.20" fill="#e8eef8"/>
<rect x="79.10" y="260.50" width="1.00" height="1.20" fill="#e8eef8"/>
<rect x="81.10" y="260.50" width="1.00" height="1.20" fill="#e8eef8"/>
<rect x="83.10" y="260.50" width="1.00" height="1.20" fill="#e8eef8"/>
<rect x="85.10" y="260.50" width="1.00" height="1.20" fill="#e8eef8"/>
<rect x="87.10" y="260.50" width="1.00" height="1.20" fill="#e8eef8"/>
<rect x="59.00" y="226.80" width="53.80" height="33.00" fill="#8b8b8d"/>
<rect x="60.60" y="228.20" width="50.60" height="30.20" fill="url(#gGw)"/>
<rect x="61.40" y="229.00" width="49.20" height="1.00" fill="#34609f"/>
<rect x="61.40" y="257.00" width="49.20" height="1.00" fill="#34609f"/>
<rect x="61.60" y="229.40" width="5.20" height="1.60" fill="#4a74b4"/>
<rect x="86.50" y="242.10" width="24.50" height="2.90" fill="url(#gGwBar)"/>
<rect x="66.30" y="236.10" width="1.50" height="1.10" fill="#e6e6e8"/>
<rect x="69.30" y="236.10" width="1.50" height="1.10" fill="#e6e6e8"/>
<rect x="66.30" y="238.85" width="1.50" height="1.10" fill="#e6e6e8"/>
<rect x="69.30" y="238.85" width="1.50" height="1.10" fill="#e6e6e8"/>
<rect x="66.30" y="241.60" width="1.50" height="1.10" fill="#e6e6e8"/>
<rect x="69.30" y="241.60" width="1.50" height="1.10" fill="#e6e6e8"/>
<rect x="66.30" y="244.35" width="1.50" height="1.10" fill="#e6e6e8"/>
<rect x="69.30" y="244.35" width="1.50" height="1.10" fill="#e6e6e8"/>
<rect x="66.30" y="247.10" width="1.50" height="1.10" fill="#e6e6e8"/>
<rect x="69.30" y="247.10" width="1.50" height="1.10" fill="#e6e6e8"/>
<rect x="66.30" y="249.85" width="1.50" height="1.10" fill="#e6e6e8"/>
<rect x="69.30" y="249.85" width="1.50" height="1.10" fill="#e6e6e8"/>
<circle cx="107.60" cy="260.90" r="0.80" fill="#d08a50"/>
<rect x="859.60" y="224.40" width="8.40" height="2.60" fill="#3d68aa"/>
<rect x="860.50" y="225.00" width="1.00" height="1.20" fill="#e8eef8"/>
<rect x="862.40" y="225.00" width="1.00" height="1.20" fill="#e8eef8"/>
<rect x="864.30" y="225.00" width="1.00" height="1.20" fill="#e8eef8"/>
<rect x="866.20" y="225.00" width="1.00" height="1.20" fill="#e8eef8"/>
<rect x="859.60" y="259.60" width="23.30" height="3.00" fill="#3d68aa"/>
<rect x="860.40" y="260.50" width="1.00" height="1.20" fill="#e8eef8"/>
<rect x="862.40" y="260.50" width="1.00" height="1.20" fill="#e8eef8"/>
<rect x="864.40" y="260.50" width="1.00" height="1.20" fill="#e8eef8"/>
<rect x="866.40" y="260.50" width="1.00" height="1.20" fill="#e8eef8"/>
<rect x="868.40" y="260.50" width="1.00" height="1.20" fill="#e8eef8"/>
<rect x="870.40" y="260.50" width="1.00" height="1.20" fill="#e8eef8"/>
<rect x="872.40" y="260.50" width="1.00" height="1.20" fill="#e8eef8"/>
<rect x="874.40" y="260.50" width="1.00" height="1.20" fill="#e8eef8"/>
<rect x="876.40" y="260.50" width="1.00" height="1.20" fill="#e8eef8"/>
<rect x="878.40" y="260.50" width="1.00" height="1.20" fill="#e8eef8"/>
<rect x="880.40" y="260.50" width="1.00" height="1.20" fill="#e8eef8"/>
<rect x="852.30" y="226.80" width="53.80" height="33.00" fill="#8b8b8d"/>
<rect x="853.90" y="228.20" width="50.60" height="30.20" fill="url(#gGw)"/>
<rect x="854.70" y="229.00" width="49.20" height="1.00" fill="#34609f"/>
<rect x="854.70" y="257.00" width="49.20" height="1.00" fill="#34609f"/>
<rect x="854.90" y="229.40" width="5.20" height="1.60" fill="#4a74b4"/>
<rect x="879.80" y="242.10" width="24.50" height="2.90" fill="url(#gGwBar)"/>
<rect x="859.60" y="236.10" width="1.50" height="1.10" fill="#e6e6e8"/>
<rect x="862.60" y="236.10" width="1.50" height="1.10" fill="#e6e6e8"/>
<rect x="859.60" y="238.85" width="1.50" height="1.10" fill="#e6e6e8"/>
<rect x="862.60" y="238.85" width="1.50" height="1.10" fill="#e6e6e8"/>
<rect x="859.60" y="241.60" width="1.50" height="1.10" fill="#e6e6e8"/>
<rect x="862.60" y="241.60" width="1.50" height="1.10" fill="#e6e6e8"/>
<rect x="859.60" y="244.35" width="1.50" height="1.10" fill="#e6e6e8"/>
<rect x="862.60" y="244.35" width="1.50" height="1.10" fill="#e6e6e8"/>
<rect x="859.60" y="247.10" width="1.50" height="1.10" fill="#e6e6e8"/>
<rect x="862.60" y="247.10" width="1.50" height="1.10" fill="#e6e6e8"/>
<rect x="859.60" y="249.85" width="1.50" height="1.10" fill="#e6e6e8"/>
<rect x="862.60" y="249.85" width="1.50" height="1.10" fill="#e6e6e8"/>
<circle cx="900.90" cy="260.90" r="0.80" fill="#d08a50"/>
<text x="120.3" y="245" font-size="11.7" text-anchor="start" fill="#4b4b4d" textLength="24.5" lengthAdjust="spacingAndGlyphs">Edge</text>
<text x="120.3" y="256" font-size="11.7" text-anchor="start" fill="#4b4b4d" textLength="43.2" lengthAdjust="spacingAndGlyphs">Gateway</text>
<text x="910.4" y="245" font-size="11.7" text-anchor="start" fill="#4b4b4d" textLength="24.5" lengthAdjust="spacingAndGlyphs">Edge</text>
<text x="910.4" y="256" font-size="11.7" text-anchor="start" fill="#4b4b4d" textLength="43.2" lengthAdjust="spacingAndGlyphs">Gateway</text>
<polygon points="143.70,286.40 144.70,286.40 146.20,326.70 141.80,326.70" fill="#7a7a7d"/>
<polygon points="115.60,285.20 144.40,285.20 139.90,327.50 110.60,327.50" fill="#ededed" stroke="#c9c9c9" stroke-width="0.4"/>
<polygon points="116.50,286.60 143.40,286.60 139.20,325.80 111.90,325.80" fill="#717174"/>
<line x1="115.3" y1="296.4" x2="142.3" y2="296.4" stroke="#d6d6d6" stroke-width="0.65"/>
<line x1="114.2" y1="306.2" x2="141.3" y2="306.2" stroke="#d6d6d6" stroke-width="0.65"/>
<line x1="113.0" y1="316.0" x2="140.2" y2="316.0" stroke="#d6d6d6" stroke-width="0.65"/>
<line x1="129.9" y1="286.6" x2="125.5" y2="325.8" stroke="#d6d6d6" stroke-width="0.65"/>
<line x1="116.2" y1="289.1" x2="143.1" y2="289.1" stroke="#8a8a8d" stroke-width="0.3"/>
<line x1="115.9" y1="291.5" x2="142.9" y2="291.5" stroke="#8a8a8d" stroke-width="0.3"/>
<line x1="115.6" y1="294.0" x2="142.6" y2="294.0" stroke="#8a8a8d" stroke-width="0.3"/>
<line x1="115.1" y1="298.9" x2="142.1" y2="298.9" stroke="#8a8a8d" stroke-width="0.3"/>
<line x1="114.8" y1="301.3" x2="141.8" y2="301.3" stroke="#8a8a8d" stroke-width="0.3"/>
<line x1="114.5" y1="303.8" x2="141.6" y2="303.8" stroke="#8a8a8d" stroke-width="0.3"/>
<line x1="113.9" y1="308.7" x2="141.0" y2="308.7" stroke="#8a8a8d" stroke-width="0.3"/>
<line x1="113.6" y1="311.1" x2="140.8" y2="311.1" stroke="#8a8a8d" stroke-width="0.3"/>
<line x1="113.3" y1="313.6" x2="140.5" y2="313.6" stroke="#8a8a8d" stroke-width="0.3"/>
<line x1="112.8" y1="318.5" x2="140.0" y2="318.5" stroke="#8a8a8d" stroke-width="0.3"/>
<line x1="112.5" y1="320.9" x2="139.7" y2="320.9" stroke="#8a8a8d" stroke-width="0.3"/>
<line x1="112.2" y1="323.4" x2="139.5" y2="323.4" stroke="#8a8a8d" stroke-width="0.3"/>
<line x1="118.7" y1="286.6" x2="114.2" y2="325.8" stroke="#868689" stroke-width="0.25"/>
<line x1="121.0" y1="286.6" x2="116.5" y2="325.8" stroke="#868689" stroke-width="0.25"/>
<line x1="123.2" y1="286.6" x2="118.7" y2="325.8" stroke="#868689" stroke-width="0.25"/>
<line x1="125.5" y1="286.6" x2="121.0" y2="325.8" stroke="#868689" stroke-width="0.25"/>
<line x1="127.7" y1="286.6" x2="123.3" y2="325.8" stroke="#868689" stroke-width="0.25"/>
<line x1="132.2" y1="286.6" x2="127.8" y2="325.8" stroke="#868689" stroke-width="0.25"/>
<line x1="134.4" y1="286.6" x2="130.1" y2="325.8" stroke="#868689" stroke-width="0.25"/>
<line x1="136.7" y1="286.6" x2="132.4" y2="325.8" stroke="#868689" stroke-width="0.25"/>
<line x1="138.9" y1="286.6" x2="134.7" y2="325.8" stroke="#868689" stroke-width="0.25"/>
<line x1="141.2" y1="286.6" x2="136.9" y2="325.8" stroke="#868689" stroke-width="0.25"/>
<text x="128.6" y="342" font-size="11.7" text-anchor="middle" fill="#4b4b4d" textLength="49.2" lengthAdjust="spacingAndGlyphs">PV Panels</text>
<polygon points="41.75,347.60 42.45,347.60 42.90,387.8 41.30,387.8" fill="url(#gPole)"/>
<polygon points="42.10,347.60 40.83,344.16 32.00,335.60 39.34,345.41" fill="#74c6f3"/>
<polygon points="42.10,347.60 44.52,348.72 52.80,347.00 44.41,346.77" fill="#74c6f3"/>
<polygon points="42.10,347.60 39.14,349.68 33.30,360.30 40.74,350.79" fill="#74c6f3"/>
<circle cx="42.10" cy="347.60" r="1.00" fill="#7fa8d8"/>
<polygon points="59.05,348.00 59.75,348.00 60.20,387.8 58.60,387.8" fill="url(#gPole)"/>
<polygon points="59.40,348.00 59.82,344.41 55.80,333.00 57.93,344.86" fill="#74c6f3"/>
<polygon points="59.40,348.00 60.60,350.49 68.30,354.80 61.78,348.94" fill="#74c6f3"/>
<polygon points="59.40,348.00 55.62,348.51 44.80,355.40 56.50,350.25" fill="#74c6f3"/>
<circle cx="59.40" cy="348.00" r="1.00" fill="#7fa8d8"/>
<rect x="57.60" y="346.80" width="4.20" height="1.80" fill="#5a86c8"/>
<text x="49.8" y="404" font-size="11.7" text-anchor="middle" fill="#4b4b4d" textLength="24.5" lengthAdjust="spacingAndGlyphs">Wind</text>
<text x="49.4" y="416" font-size="11.7" text-anchor="middle" fill="#4b4b4d" textLength="30.4" lengthAdjust="spacingAndGlyphs">Power</text>
<path d="M114.6,421 h-1.2 a1.2,1.2 0 0 1 -1.2,-1.2 v-17.6 a1.2,1.2 0 0 1 1.2,-1.2 h1.2" fill="none" stroke="#c9c9cb" stroke-width="0.9"/>
<path d="M137.8,417.2 h3.6 a2.2,2.2 0 0 1 2.2,2.2 v13.8 a2.2,2.2 0 0 1 -2.2,2.2 h-3.2" fill="none" stroke="#b9b9bb" stroke-width="0.9"/>
<path d="M114.5,439.2 V390.5 a5,5 0 0 1 5,-5 h13.4 a5,5 0 0 1 5,5 V439.2 Z" fill="url(#gCharge)"/>
<path d="M114.5,428 Q124,440 137.9,431 V439.2 H114.5 Z" fill="#c4afb0" opacity="0.7"/>
<path d="M116.7,391.3 a3.6,3.6 0 0 1 3.6,-3.6 h12.3 a3.6,3.6 0 0 1 3.6,3.6 V410.5 Q136.2,421.8 126.4,421.8 Q116.7,421.8 116.7,410.5 Z" fill="#2c2c2f"/>
<rect x="120.2" y="393.4" width="12.9" height="19.6" rx="1" fill="#3aa5d2"/>
<rect x="123.6" y="396.4" width="6.2" height="2.6" rx="1.2" fill="none" stroke="#9edbf2" stroke-width="0.5"/>
<path d="M126.7,401.2 v10 M125.4,401.2 v2.6 h2.6 v-2.6" fill="none" stroke="#c8ecfa" stroke-width="0.55"/>
<rect x="117.00" y="439.10" width="19.30" height="1.80" fill="#1c1c1e"/>
<rect x="136.90" y="434.20" width="1.60" height="2.40" fill="#2a2a2c"/>
<text x="125.1" y="458" font-size="11.7" text-anchor="middle" fill="#4b4b4d" textLength="43.9" lengthAdjust="spacingAndGlyphs">Charging</text>
<text x="125.0" y="470" font-size="11.7" text-anchor="middle" fill="#4b4b4d" textLength="36.0" lengthAdjust="spacingAndGlyphs">Station</text>
<rect x="44.4" y="448.5" width="9.9" height="4.2" rx="1.2" fill="url(#gBattTop)" stroke="#a8a8a8" stroke-width="0.4"/>
<rect x="36.6" y="451.4" width="27.1" height="40" rx="2.2" fill="url(#gBattTop)"/>
<rect x="36.60" y="463.20" width="27.10" height="26.60" fill="url(#gBatt)"/>
<rect x="36.6" y="451.4" width="27.1" height="2" rx="1" fill="#c6c6c6" opacity="0.8"/>
<path d="M36.6,489.6 h27.1 v0.2 a2,2 0 0 1 -2,1.7 h-23.1 a2,2 0 0 1 -2,-1.7 Z" fill="#c9cdd0"/>
<polygon points="49.40,468.20 53.60,468.20 51.40,473.80 54.00,473.80 47.40,484.20 48.90,476.80 45.80,476.80" fill="#f2f2f2"/>
<text x="51.2" y="510" font-size="11.7" text-anchor="middle" fill="#4b4b4d" textLength="34.0" lengthAdjust="spacingAndGlyphs">Energy</text>
<text x="51.0" y="522" font-size="11.7" text-anchor="middle" fill="#4b4b4d" textLength="38.4" lengthAdjust="spacingAndGlyphs">Storage</text>
<path d="M134.9,502.6 Q128,496.5 120.6,494.2" fill="none" stroke="#8d8d8f" stroke-width="0.8"/>
<path d="M134.6,508 Q131,499.5 123.2,495.4" fill="none" stroke="#9a9a9c" stroke-width="0.5"/>
<ellipse cx="118.4" cy="493.6" rx="3.7" ry="1.7" transform="rotate(22 118.4 493.6)" fill="#b6b6b8"/>
<ellipse cx="118.9" cy="494.6" rx="2.4" ry="0.8" transform="rotate(22 118.9 494.6)" fill="#e9d9c4"/>
<rect x="134.20" y="502.40" width="1.40" height="34.50" fill="#8e8e90"/>
<rect x="133.5" y="536.2" width="2.8" height="7.8" rx="1" fill="#8a8a8c"/>
<polygon points="132.90,512.80 139.20,509.00 143.60,513.60 137.20,517.80" fill="#3a7acb"/>
<line x1="135.0" y1="515.3" x2="141.4" y2="511.3" stroke="#6ea0e0" stroke-width="0.4"/>
<text x="129.1" y="562" font-size="11.7" text-anchor="middle" fill="#4b4b4d" textLength="72.0" lengthAdjust="spacingAndGlyphs">Solar-Powered</text>
<text x="129.1" y="573" font-size="11.7" text-anchor="middle" fill="#4b4b4d" textLength="57.9" lengthAdjust="spacingAndGlyphs">Street Light</text>
<ellipse cx="446.00" cy="314.80" rx="22.00" ry="2.20" fill="url(#gShadow)"/>
<polygon points="428.60,223.00 437.30,221.20 437.30,316.00 428.60,312.80" fill="#29292b"/>
<rect x="437.20" y="220.00" width="26.70" height="91.00" fill="#ececee"/>
<rect x="462.60" y="220.00" width="1.30" height="91.00" fill="#c9c9cb"/>
<rect x="437.20" y="220.00" width="26.70" height="1.70" fill="#9a9a9c"/>
<rect x="437.40" y="219.80" width="8.40" height="1.90" fill="#3f6dbc"/>
<rect x="460.20" y="220.20" width="3.20" height="1.40" fill="#6a6a6c"/>
<rect x="441.6" y="225.8" width="18.6" height="84.4" rx="1.6" fill="url(#gCent)" stroke="#b4b4b6" stroke-width="0.4"/>
<polygon points="448.00,226.20 459.40,226.20 459.40,228.00 443.60,279.60 442.00,279.60 442.00,246.00" fill="#e8e8ea" opacity="0.6"/>
<rect x="441.90" y="262.40" width="18.00" height="47.40" fill="#a9a9ad" opacity="0.55"/>
<polygon points="448.60,262.40 453.00,262.40 444.00,300.00 442.00,300.00 442.00,284.00" fill="#dcdcde" opacity="0.5"/>
<rect x="443.80" y="234.30" width="14.20" height="11.30" fill="#7f87c9"/>
<rect x="445.60" y="235.80" width="10.60" height="5.60" fill="#a9b2e2"/>
<rect x="448.00" y="237.00" width="5.60" height="2.60" fill="#c9cff0"/>
<rect x="443.80" y="243.80" width="14.20" height="1.80" fill="#6a72b8"/>
<rect x="455.40" y="243.00" width="2.20" height="1.80" fill="#c0707a"/>
<rect x="441.80" y="260.90" width="18.40" height="1.30" fill="#f2f2f4"/>
<rect x="447.80" y="259.20" width="7.60" height="1.20" fill="#f4f4f6"/>
<rect x="440.60" y="262.40" width="0.90" height="4.60" fill="#f8f8fa"/>
<polygon points="437.20,310.90 463.90,310.90 463.90,314.80 437.30,316.00" fill="#1e1e20"/>
<text transform="translate(431.60,231.80) rotate(90)" font-size="4.2" fill="#e4e4e6" textLength="27.5" lengthAdjust="spacingAndGlyphs">CHNT</text>
<rect x="296" y="421" width="236" height="25" rx="10" fill="#e4e4e6" filter="url(#fBlur3)" opacity="0.8"/>
<rect x="290" y="421" width="20" height="6" rx="3" fill="#dcdcde" filter="url(#fBlur2)" opacity="0.6"/>
<ellipse cx="323.90" cy="444.60" rx="27.00" ry="2.60" fill="url(#gShadow)" opacity="0.8"/>
<ellipse cx="323.90" cy="424.20" rx="28.00" ry="2.60" fill="url(#gShadow)" opacity="0.5"/>
<polygon points="306.90,351.20 315.70,350.00 315.70,445.80 306.90,442.00" fill="url(#gCabS)"/>
<polygon points="306.90,421.60 315.70,423.40 315.70,425.60 306.90,423.40" fill="#77777a"/>
<polygon points="315.70,349.40 341.60,351.00 341.60,441.60 315.70,445.80" fill="url(#gCabF)"/>
<polygon points="315.70,349.40 341.60,351.00 341.60,400.00 315.70,400.00" fill="url(#gHi)"/>
<polygon points="315.70,347.30 341.60,349.60 341.60,351.20 315.70,349.60" fill="#9b9b9d"/>
<polygon points="316.00,347.40 321.90,347.90 321.90,349.70 316.00,349.30" fill="#416fb8"/>
<line x1="329.4" y1="350.0" x2="329.4" y2="444.4" stroke="#a2a2a4" stroke-width="0.55"/>
<line x1="329.9" y1="350.0" x2="329.9" y2="444.4" stroke="#ececee" stroke-width="0.4"/>
<polygon points="316.70,423.30 341.10,420.30 341.10,422.50 316.70,425.80" fill="#38383a"/>
<polygon points="316.90,425.70 341.00,422.40 341.00,423.00 316.90,426.40" fill="#b4b4b6"/>
<polygon points="316.70,442.50 341.10,439.50 341.10,441.60 316.70,444.90" fill="#3a3a3c"/>
<rect x="319.30" y="365.20" width="7.90" height="6.20" fill="#dfe3e6"/>
<rect x="319.80" y="365.70" width="6.90" height="5.20" fill="#1c7c9e"/>
<rect x="321.70" y="367.00" width="3.20" height="2.40" fill="#7cc6e0"/>
<rect x="336.30" y="364.90" width="1.60" height="1.00" fill="#c8505a"/>
<circle cx="333.20" cy="367.90" r="0.60" fill="#d8cf5a"/>
<circle cx="333.20" cy="370.50" r="0.60" fill="#7cc25a"/>
<circle cx="335.50" cy="367.90" r="0.60" fill="#d8cf5a"/>
<circle cx="335.50" cy="370.50" r="0.60" fill="#7cc25a"/>
<circle cx="337.80" cy="367.90" r="0.60" fill="#d8cf5a"/>
<circle cx="337.80" cy="370.50" r="0.60" fill="#b8d85a"/>
<rect x="330.90" y="384.00" width="0.80" height="3.60" fill="#f6f6f8"/>
<text transform="translate(310.60,358.00) rotate(90)" font-size="4.0" fill="#cfcfd1" textLength="23.0" lengthAdjust="spacingAndGlyphs">CHNT</text>
<ellipse cx="370.75" cy="444.60" rx="27.00" ry="2.60" fill="url(#gShadow)" opacity="0.8"/>
<ellipse cx="370.75" cy="424.20" rx="28.00" ry="2.60" fill="url(#gShadow)" opacity="0.5"/>
<polygon points="353.75,351.20 362.55,350.00 362.55,445.80 353.75,442.00" fill="url(#gCabS)"/>
<polygon points="353.75,421.60 362.55,423.40 362.55,425.60 353.75,423.40" fill="#77777a"/>
<polygon points="362.55,349.40 388.45,351.00 388.45,441.60 362.55,445.80" fill="url(#gCabF)"/>
<polygon points="362.55,349.40 388.45,351.00 388.45,400.00 362.55,400.00" fill="url(#gHi)"/>
<polygon points="362.55,347.30 388.45,349.60 388.45,351.20 362.55,349.60" fill="#9b9b9d"/>
<polygon points="362.85,347.40 368.75,347.90 368.75,349.70 362.85,349.30" fill="#416fb8"/>
<line x1="376.2" y1="350.0" x2="376.2" y2="444.4" stroke="#a2a2a4" stroke-width="0.55"/>
<line x1="376.8" y1="350.0" x2="376.8" y2="444.4" stroke="#ececee" stroke-width="0.4"/>
<polygon points="363.55,423.30 387.95,420.30 387.95,422.50 363.55,425.80" fill="#38383a"/>
<polygon points="363.75,425.70 387.85,422.40 387.85,423.00 363.75,426.40" fill="#b4b4b6"/>
<polygon points="363.55,442.50 387.95,439.50 387.95,441.60 363.55,444.90" fill="#3a3a3c"/>
<rect x="366.15" y="365.20" width="7.90" height="6.20" fill="#dfe3e6"/>
<rect x="366.65" y="365.70" width="6.90" height="5.20" fill="#1c7c9e"/>
<rect x="368.55" y="367.00" width="3.20" height="2.40" fill="#7cc6e0"/>
<rect x="383.15" y="364.90" width="1.60" height="1.00" fill="#c8505a"/>
<circle cx="380.05" cy="367.90" r="0.60" fill="#d8cf5a"/>
<circle cx="380.05" cy="370.50" r="0.60" fill="#7cc25a"/>
<circle cx="382.35" cy="367.90" r="0.60" fill="#d8cf5a"/>
<circle cx="382.35" cy="370.50" r="0.60" fill="#7cc25a"/>
<circle cx="384.65" cy="367.90" r="0.60" fill="#d8cf5a"/>
<circle cx="384.65" cy="370.50" r="0.60" fill="#b8d85a"/>
<rect x="377.75" y="384.00" width="0.80" height="3.60" fill="#f6f6f8"/>
<text transform="translate(357.45,358.00) rotate(90)" font-size="4.0" fill="#cfcfd1" textLength="23.0" lengthAdjust="spacingAndGlyphs">CHNT</text>
<ellipse cx="417.60" cy="444.60" rx="27.00" ry="2.60" fill="url(#gShadow)" opacity="0.8"/>
<ellipse cx="417.60" cy="424.20" rx="28.00" ry="2.60" fill="url(#gShadow)" opacity="0.5"/>
<polygon points="400.60,351.20 409.40,350.00 409.40,445.80 400.60,442.00" fill="url(#gCabS)"/>
<polygon points="400.60,421.60 409.40,423.40 409.40,425.60 400.60,423.40" fill="#77777a"/>
<polygon points="409.40,349.40 435.30,351.00 435.30,441.60 409.40,445.80" fill="url(#gCabF)"/>
<polygon points="409.40,349.40 435.30,351.00 435.30,400.00 409.40,400.00" fill="url(#gHi)"/>
<polygon points="409.40,347.30 435.30,349.60 435.30,351.20 409.40,349.60" fill="#9b9b9d"/>
<polygon points="409.70,347.40 415.60,347.90 415.60,349.70 409.70,349.30" fill="#416fb8"/>
<line x1="423.1" y1="350.0" x2="423.1" y2="444.4" stroke="#a2a2a4" stroke-width="0.55"/>
<line x1="423.6" y1="350.0" x2="423.6" y2="444.4" stroke="#ececee" stroke-width="0.4"/>
<polygon points="410.40,423.30 434.80,420.30 434.80,422.50 410.40,425.80" fill="#38383a"/>
<polygon points="410.60,425.70 434.70,422.40 434.70,423.00 410.60,426.40" fill="#b4b4b6"/>
<polygon points="410.40,442.50 434.80,439.50 434.80,441.60 410.40,444.90" fill="#3a3a3c"/>
<rect x="413.00" y="365.20" width="7.90" height="6.20" fill="#dfe3e6"/>
<rect x="413.50" y="365.70" width="6.90" height="5.20" fill="#1c7c9e"/>
<rect x="415.40" y="367.00" width="3.20" height="2.40" fill="#7cc6e0"/>
<rect x="430.00" y="364.90" width="1.60" height="1.00" fill="#c8505a"/>
<circle cx="426.90" cy="367.90" r="0.60" fill="#d8cf5a"/>
<circle cx="426.90" cy="370.50" r="0.60" fill="#7cc25a"/>
<circle cx="429.20" cy="367.90" r="0.60" fill="#d8cf5a"/>
<circle cx="429.20" cy="370.50" r="0.60" fill="#7cc25a"/>
<circle cx="431.50" cy="367.90" r="0.60" fill="#d8cf5a"/>
<circle cx="431.50" cy="370.50" r="0.60" fill="#b8d85a"/>
<rect x="424.60" y="384.00" width="0.80" height="3.60" fill="#f6f6f8"/>
<text transform="translate(404.30,358.00) rotate(90)" font-size="4.0" fill="#cfcfd1" textLength="23.0" lengthAdjust="spacingAndGlyphs">CHNT</text>
<ellipse cx="464.45" cy="444.60" rx="27.00" ry="2.60" fill="url(#gShadow)" opacity="0.8"/>
<ellipse cx="464.45" cy="424.20" rx="28.00" ry="2.60" fill="url(#gShadow)" opacity="0.5"/>
<polygon points="447.45,351.20 456.25,350.00 456.25,445.80 447.45,442.00" fill="url(#gCabS)"/>
<polygon points="447.45,421.60 456.25,423.40 456.25,425.60 447.45,423.40" fill="#77777a"/>
<polygon points="456.25,349.40 482.15,351.00 482.15,441.60 456.25,445.80" fill="url(#gCabF)"/>
<polygon points="456.25,349.40 482.15,351.00 482.15,400.00 456.25,400.00" fill="url(#gHi)"/>
<polygon points="456.25,347.30 482.15,349.60 482.15,351.20 456.25,349.60" fill="#9b9b9d"/>
<polygon points="456.55,347.40 462.45,347.90 462.45,349.70 456.55,349.30" fill="#416fb8"/>
<line x1="469.9" y1="350.0" x2="469.9" y2="444.4" stroke="#a2a2a4" stroke-width="0.55"/>
<line x1="470.4" y1="350.0" x2="470.4" y2="444.4" stroke="#ececee" stroke-width="0.4"/>
<polygon points="457.25,423.30 481.65,420.30 481.65,422.50 457.25,425.80" fill="#38383a"/>
<polygon points="457.45,425.70 481.55,422.40 481.55,423.00 457.45,426.40" fill="#b4b4b6"/>
<polygon points="457.25,442.50 481.65,439.50 481.65,441.60 457.25,444.90" fill="#3a3a3c"/>
<rect x="459.85" y="365.20" width="7.90" height="6.20" fill="#dfe3e6"/>
<rect x="460.35" y="365.70" width="6.90" height="5.20" fill="#1c7c9e"/>
<rect x="462.25" y="367.00" width="3.20" height="2.40" fill="#7cc6e0"/>
<rect x="476.85" y="364.90" width="1.60" height="1.00" fill="#c8505a"/>
<circle cx="473.75" cy="367.90" r="0.60" fill="#d8cf5a"/>
<circle cx="473.75" cy="370.50" r="0.60" fill="#7cc25a"/>
<circle cx="476.05" cy="367.90" r="0.60" fill="#d8cf5a"/>
<circle cx="476.05" cy="370.50" r="0.60" fill="#7cc25a"/>
<circle cx="478.35" cy="367.90" r="0.60" fill="#d8cf5a"/>
<circle cx="478.35" cy="370.50" r="0.60" fill="#b8d85a"/>
<rect x="471.45" y="384.00" width="0.80" height="3.60" fill="#f6f6f8"/>
<text transform="translate(451.15,358.00) rotate(90)" font-size="4.0" fill="#cfcfd1" textLength="23.0" lengthAdjust="spacingAndGlyphs">CHNT</text>
<ellipse cx="511.30" cy="444.60" rx="27.00" ry="2.60" fill="url(#gShadow)" opacity="0.8"/>
<ellipse cx="511.30" cy="424.20" rx="28.00" ry="2.60" fill="url(#gShadow)" opacity="0.5"/>
<polygon points="494.30,351.20 503.10,350.00 503.10,445.80 494.30,442.00" fill="url(#gCabS)"/>
<polygon points="494.30,421.60 503.10,423.40 503.10,425.60 494.30,423.40" fill="#77777a"/>
<polygon points="503.10,349.40 529.00,351.00 529.00,441.60 503.10,445.80" fill="url(#gCabF)"/>
<polygon points="503.10,349.40 529.00,351.00 529.00,400.00 503.10,400.00" fill="url(#gHi)"/>
<polygon points="503.10,347.30 529.00,349.60 529.00,351.20 503.10,349.60" fill="#9b9b9d"/>
<polygon points="503.40,347.40 509.30,347.90 509.30,349.70 503.40,349.30" fill="#416fb8"/>
<line x1="516.8" y1="350.0" x2="516.8" y2="444.4" stroke="#a2a2a4" stroke-width="0.55"/>
<line x1="517.3" y1="350.0" x2="517.3" y2="444.4" stroke="#ececee" stroke-width="0.4"/>
<polygon points="504.10,423.30 528.50,420.30 528.50,422.50 504.10,425.80" fill="#38383a"/>
<polygon points="504.30,425.70 528.40,422.40 528.40,423.00 504.30,426.40" fill="#b4b4b6"/>
<polygon points="504.10,442.50 528.50,439.50 528.50,441.60 504.10,444.90" fill="#3a3a3c"/>
<rect x="506.70" y="365.20" width="7.90" height="6.20" fill="#dfe3e6"/>
<rect x="507.20" y="365.70" width="6.90" height="5.20" fill="#1c7c9e"/>
<rect x="509.10" y="367.00" width="3.20" height="2.40" fill="#7cc6e0"/>
<rect x="523.70" y="364.90" width="1.60" height="1.00" fill="#c8505a"/>
<circle cx="520.60" cy="367.90" r="0.60" fill="#d8cf5a"/>
<circle cx="520.60" cy="370.50" r="0.60" fill="#7cc25a"/>
<circle cx="522.90" cy="367.90" r="0.60" fill="#d8cf5a"/>
<circle cx="522.90" cy="370.50" r="0.60" fill="#7cc25a"/>
<circle cx="525.20" cy="367.90" r="0.60" fill="#d8cf5a"/>
<circle cx="525.20" cy="370.50" r="0.60" fill="#b8d85a"/>
<rect x="518.30" y="384.00" width="0.80" height="3.60" fill="#f6f6f8"/>
<text transform="translate(498.00,358.00) rotate(90)" font-size="4.0" fill="#cfcfd1" textLength="23.0" lengthAdjust="spacingAndGlyphs">CHNT</text>
<ellipse cx="554.00" cy="390.20" rx="24.00" ry="2.60" fill="url(#gShadow)"/>
<ellipse cx="554.00" cy="410.00" rx="22.00" ry="2.40" fill="url(#gShadow)"/>
<polygon points="540.00,356.60 547.30,355.30 547.30,410.40 540.00,409.60" fill="#6b6b6d"/>
<rect x="547.30" y="358.40" width="20.40" height="51.80" fill="url(#gBoxF)"/>
<polygon points="547.30,355.30 567.70,356.20 567.70,358.80 547.30,358.80" fill="#8e8e90"/>
<polygon points="547.90,355.30 554.30,355.60 554.30,357.30 547.90,357.10" fill="#4a76bc"/>
<rect x="564.10" y="356.60" width="3.00" height="1.90" fill="#d8d8da"/>
<rect x="540.00" y="389.40" width="27.70" height="1.10" fill="#9a9a9c" opacity="0.55"/>
<rect x="547.30" y="390.60" width="20.40" height="0.80" fill="#f4f4f6"/>
<polygon points="540.00,390.60 547.30,390.60 547.30,410.40 540.00,409.60" fill="#5a5a5c" opacity="0.25"/>
<text transform="translate(542.50,359.10) rotate(90)" font-size="3.1" fill="#ececee" textLength="13.6" lengthAdjust="spacingAndGlyphs">CHNT</text>
<circle cx="553.10" cy="365.10" r="0.72" fill="#3fa650"/>
<rect x="552.40" y="366.20" width="1.40" height="0.40" fill="#d0d0d2"/>
<circle cx="557.10" cy="365.10" r="0.72" fill="#3fa650"/>
<rect x="556.40" y="366.20" width="1.40" height="0.40" fill="#d0d0d2"/>
<circle cx="560.70" cy="365.10" r="0.72" fill="#3fa650"/>
<rect x="560.00" y="366.20" width="1.40" height="0.40" fill="#d0d0d2"/>
<circle cx="564.00" cy="365.10" r="0.72" fill="#3fa650"/>
<rect x="563.30" y="366.20" width="1.40" height="0.40" fill="#d0d0d2"/>
<circle cx="553.10" cy="369.20" r="0.72" fill="#c8404a"/>
<rect x="552.40" y="370.30" width="1.40" height="0.40" fill="#d0d0d2"/>
<circle cx="557.10" cy="369.20" r="0.72" fill="#c8404a"/>
<rect x="556.40" y="370.30" width="1.40" height="0.40" fill="#d0d0d2"/>
<circle cx="560.70" cy="369.20" r="0.72" fill="#c8404a"/>
<rect x="560.00" y="370.30" width="1.40" height="0.40" fill="#d0d0d2"/>
<circle cx="564.00" cy="369.20" r="0.72" fill="#c8404a"/>
<rect x="563.30" y="370.30" width="1.40" height="0.40" fill="#d0d0d2"/>
<circle cx="553.10" cy="373.90" r="0.72" fill="#3fa650"/>
<rect x="552.40" y="375.00" width="1.40" height="0.40" fill="#d0d0d2"/>
<circle cx="557.10" cy="373.90" r="0.72" fill="#3fa650"/>
<rect x="556.40" y="375.00" width="1.40" height="0.40" fill="#d0d0d2"/>
<circle cx="560.70" cy="373.90" r="0.72" fill="#3fa650"/>
<rect x="560.00" y="375.00" width="1.40" height="0.40" fill="#d0d0d2"/>
<circle cx="564.00" cy="373.90" r="0.72" fill="#3fa650"/>
<rect x="563.30" y="375.00" width="1.40" height="0.40" fill="#d0d0d2"/>
<circle cx="553.10" cy="377.80" r="0.72" fill="#c8404a"/>
<rect x="552.40" y="378.90" width="1.40" height="0.40" fill="#d0d0d2"/>
<circle cx="557.10" cy="377.80" r="0.72" fill="#c8404a"/>
<rect x="556.40" y="378.90" width="1.40" height="0.40" fill="#d0d0d2"/>
<circle cx="560.70" cy="377.80" r="0.72" fill="#c8404a"/>
<rect x="560.00" y="378.90" width="1.40" height="0.40" fill="#d0d0d2"/>
<circle cx="564.00" cy="377.80" r="0.72" fill="#c8404a"/>
<rect x="563.30" y="378.90" width="1.40" height="0.40" fill="#d0d0d2"/>
<circle cx="553.10" cy="382.10" r="0.72" fill="#4a4a4c"/>
<rect x="552.40" y="383.20" width="1.40" height="0.40" fill="#d0d0d2"/>
<circle cx="557.10" cy="382.10" r="0.72" fill="#4a4a4c"/>
<rect x="556.40" y="383.20" width="1.40" height="0.40" fill="#d0d0d2"/>
<circle cx="560.70" cy="382.10" r="0.72" fill="#4a4a4c"/>
<rect x="560.00" y="383.20" width="1.40" height="0.40" fill="#d0d0d2"/>
<circle cx="564.00" cy="382.10" r="0.72" fill="#4a4a4c"/>
<rect x="563.30" y="383.20" width="1.40" height="0.40" fill="#d0d0d2"/>
<circle cx="553.10" cy="392.80" r="0.72" fill="#3fa650"/>
<rect x="552.40" y="393.90" width="1.40" height="0.40" fill="#d0d0d2"/>
<circle cx="557.10" cy="392.80" r="0.72" fill="#3fa650"/>
<rect x="556.40" y="393.90" width="1.40" height="0.40" fill="#d0d0d2"/>
<circle cx="560.70" cy="392.80" r="0.72" fill="#3fa650"/>
<rect x="560.00" y="393.90" width="1.40" height="0.40" fill="#d0d0d2"/>
<circle cx="564.00" cy="392.80" r="0.72" fill="#3fa650"/>
<rect x="563.30" y="393.90" width="1.40" height="0.40" fill="#d0d0d2"/>
<circle cx="553.10" cy="397.00" r="0.72" fill="#c8404a"/>
<rect x="552.40" y="398.10" width="1.40" height="0.40" fill="#d0d0d2"/>
<circle cx="557.10" cy="397.00" r="0.72" fill="#c8404a"/>
<rect x="556.40" y="398.10" width="1.40" height="0.40" fill="#d0d0d2"/>
<circle cx="560.70" cy="397.00" r="0.72" fill="#c8404a"/>
<rect x="560.00" y="398.10" width="1.40" height="0.40" fill="#d0d0d2"/>
<circle cx="564.00" cy="397.00" r="0.72" fill="#c8404a"/>
<rect x="563.30" y="398.10" width="1.40" height="0.40" fill="#d0d0d2"/>
<circle cx="553.10" cy="401.20" r="0.72" fill="#4a4a4c"/>
<rect x="552.40" y="402.30" width="1.40" height="0.40" fill="#d0d0d2"/>
<circle cx="557.10" cy="401.20" r="0.72" fill="#4a4a4c"/>
<rect x="556.40" y="402.30" width="1.40" height="0.40" fill="#d0d0d2"/>
<circle cx="560.70" cy="401.20" r="0.72" fill="#4a4a4c"/>
<rect x="560.00" y="402.30" width="1.40" height="0.40" fill="#d0d0d2"/>
<circle cx="564.00" cy="401.20" r="0.72" fill="#4a4a4c"/>
<rect x="563.30" y="402.30" width="1.40" height="0.40" fill="#d0d0d2"/>
<rect x="548.30" y="371.50" width="1.60" height="5.60" fill="#f2f2f4"/>
<rect x="548.30" y="395.00" width="1.60" height="4.40" fill="#f2f2f4"/>
<ellipse cx="595.90" cy="390.20" rx="24.00" ry="2.60" fill="url(#gShadow)"/>
<ellipse cx="595.90" cy="410.00" rx="22.00" ry="2.40" fill="url(#gShadow)"/>
<polygon points="581.90,356.60 589.20,355.30 589.20,410.40 581.90,409.60" fill="#6b6b6d"/>
<rect x="589.20" y="358.40" width="20.40" height="51.80" fill="url(#gBoxF)"/>
<polygon points="589.20,355.30 609.60,356.20 609.60,358.80 589.20,358.80" fill="#8e8e90"/>
<polygon points="589.80,355.30 596.20,355.60 596.20,357.30 589.80,357.10" fill="#4a76bc"/>
<rect x="606.00" y="356.60" width="3.00" height="1.90" fill="#d8d8da"/>
<rect x="581.90" y="389.40" width="27.70" height="1.10" fill="#9a9a9c" opacity="0.55"/>
<rect x="589.20" y="390.60" width="20.40" height="0.80" fill="#f4f4f6"/>
<polygon points="581.90,390.60 589.20,390.60 589.20,410.40 581.90,409.60" fill="#5a5a5c" opacity="0.25"/>
<text transform="translate(584.40,359.10) rotate(90)" font-size="3.1" fill="#ececee" textLength="13.6" lengthAdjust="spacingAndGlyphs">CHNT</text>
<circle cx="595.00" cy="365.10" r="0.72" fill="#3fa650"/>
<rect x="594.30" y="366.20" width="1.40" height="0.40" fill="#d0d0d2"/>
<circle cx="599.00" cy="365.10" r="0.72" fill="#3fa650"/>
<rect x="598.30" y="366.20" width="1.40" height="0.40" fill="#d0d0d2"/>
<circle cx="602.60" cy="365.10" r="0.72" fill="#3fa650"/>
<rect x="601.90" y="366.20" width="1.40" height="0.40" fill="#d0d0d2"/>
<circle cx="605.90" cy="365.10" r="0.72" fill="#3fa650"/>
<rect x="605.20" y="366.20" width="1.40" height="0.40" fill="#d0d0d2"/>
<circle cx="595.00" cy="369.20" r="0.72" fill="#c8404a"/>
<rect x="594.30" y="370.30" width="1.40" height="0.40" fill="#d0d0d2"/>
<circle cx="599.00" cy="369.20" r="0.72" fill="#c8404a"/>
<rect x="598.30" y="370.30" width="1.40" height="0.40" fill="#d0d0d2"/>
<circle cx="602.60" cy="369.20" r="0.72" fill="#c8404a"/>
<rect x="601.90" y="370.30" width="1.40" height="0.40" fill="#d0d0d2"/>
<circle cx="605.90" cy="369.20" r="0.72" fill="#c8404a"/>
<rect x="605.20" y="370.30" width="1.40" height="0.40" fill="#d0d0d2"/>
<circle cx="595.00" cy="373.90" r="0.72" fill="#3fa650"/>
<rect x="594.30" y="375.00" width="1.40" height="0.40" fill="#d0d0d2"/>
<circle cx="599.00" cy="373.90" r="0.72" fill="#3fa650"/>
<rect x="598.30" y="375.00" width="1.40" height="0.40" fill="#d0d0d2"/>
<circle cx="602.60" cy="373.90" r="0.72" fill="#3fa650"/>
<rect x="601.90" y="375.00" width="1.40" height="0.40" fill="#d0d0d2"/>
<circle cx="605.90" cy="373.90" r="0.72" fill="#3fa650"/>
<rect x="605.20" y="375.00" width="1.40" height="0.40" fill="#d0d0d2"/>
<circle cx="595.00" cy="377.80" r="0.72" fill="#c8404a"/>
<rect x="594.30" y="378.90" width="1.40" height="0.40" fill="#d0d0d2"/>
<circle cx="599.00" cy="377.80" r="0.72" fill="#c8404a"/>
<rect x="598.30" y="378.90" width="1.40" height="0.40" fill="#d0d0d2"/>
<circle cx="602.60" cy="377.80" r="0.72" fill="#c8404a"/>
<rect x="601.90" y="378.90" width="1.40" height="0.40" fill="#d0d0d2"/>
<circle cx="605.90" cy="377.80" r="0.72" fill="#c8404a"/>
<rect x="605.20" y="378.90" width="1.40" height="0.40" fill="#d0d0d2"/>
<circle cx="595.00" cy="382.10" r="0.72" fill="#4a4a4c"/>
<rect x="594.30" y="383.20" width="1.40" height="0.40" fill="#d0d0d2"/>
<circle cx="599.00" cy="382.10" r="0.72" fill="#4a4a4c"/>
<rect x="598.30" y="383.20" width="1.40" height="0.40" fill="#d0d0d2"/>
<circle cx="602.60" cy="382.10" r="0.72" fill="#4a4a4c"/>
<rect x="601.90" y="383.20" width="1.40" height="0.40" fill="#d0d0d2"/>
<circle cx="605.90" cy="382.10" r="0.72" fill="#4a4a4c"/>
<rect x="605.20" y="383.20" width="1.40" height="0.40" fill="#d0d0d2"/>
<circle cx="595.00" cy="392.80" r="0.72" fill="#3fa650"/>
<rect x="594.30" y="393.90" width="1.40" height="0.40" fill="#d0d0d2"/>
<circle cx="599.00" cy="392.80" r="0.72" fill="#3fa650"/>
<rect x="598.30" y="393.90" width="1.40" height="0.40" fill="#d0d0d2"/>
<circle cx="602.60" cy="392.80" r="0.72" fill="#3fa650"/>
<rect x="601.90" y="393.90" width="1.40" height="0.40" fill="#d0d0d2"/>
<circle cx="605.90" cy="392.80" r="0.72" fill="#3fa650"/>
<rect x="605.20" y="393.90" width="1.40" height="0.40" fill="#d0d0d2"/>
<circle cx="595.00" cy="397.00" r="0.72" fill="#c8404a"/>
<rect x="594.30" y="398.10" width="1.40" height="0.40" fill="#d0d0d2"/>
<circle cx="599.00" cy="397.00" r="0.72" fill="#c8404a"/>
<rect x="598.30" y="398.10" width="1.40" height="0.40" fill="#d0d0d2"/>
<circle cx="602.60" cy="397.00" r="0.72" fill="#c8404a"/>
<rect x="601.90" y="398.10" width="1.40" height="0.40" fill="#d0d0d2"/>
<circle cx="605.90" cy="397.00" r="0.72" fill="#c8404a"/>
<rect x="605.20" y="398.10" width="1.40" height="0.40" fill="#d0d0d2"/>
<circle cx="595.00" cy="401.20" r="0.72" fill="#4a4a4c"/>
<rect x="594.30" y="402.30" width="1.40" height="0.40" fill="#d0d0d2"/>
<circle cx="599.00" cy="401.20" r="0.72" fill="#4a4a4c"/>
<rect x="598.30" y="402.30" width="1.40" height="0.40" fill="#d0d0d2"/>
<circle cx="602.60" cy="401.20" r="0.72" fill="#4a4a4c"/>
<rect x="601.90" y="402.30" width="1.40" height="0.40" fill="#d0d0d2"/>
<circle cx="605.90" cy="401.20" r="0.72" fill="#4a4a4c"/>
<rect x="605.20" y="402.30" width="1.40" height="0.40" fill="#d0d0d2"/>
<rect x="590.20" y="371.50" width="1.60" height="5.60" fill="#f2f2f4"/>
<rect x="590.20" y="395.00" width="1.60" height="4.40" fill="#f2f2f4"/>
<ellipse cx="655.30" cy="390.20" rx="24.00" ry="2.60" fill="url(#gShadow)"/>
<ellipse cx="655.30" cy="410.00" rx="22.00" ry="2.40" fill="url(#gShadow)"/>
<polygon points="641.30,356.60 648.60,355.30 648.60,410.40 641.30,409.60" fill="#808082"/>
<rect x="648.60" y="358.40" width="20.40" height="51.80" fill="url(#gBoxB)"/>
<polygon points="648.60,355.30 669.00,356.20 669.00,358.80 648.60,358.80" fill="#8e8e90"/>
<polygon points="649.20,355.30 655.60,355.60 655.60,357.30 649.20,357.10" fill="#4a76bc"/>
<rect x="665.40" y="356.60" width="3.00" height="1.90" fill="#d8d8da"/>
<rect x="641.30" y="389.40" width="27.70" height="1.10" fill="#9a9a9c" opacity="0.55"/>
<rect x="648.60" y="390.60" width="20.40" height="0.80" fill="#f4f4f6"/>
<polygon points="641.30,390.60 648.60,390.60 648.60,410.40 641.30,409.60" fill="#747476" opacity="0.25"/>
<text transform="translate(643.80,359.10) rotate(90)" font-size="3.1" fill="#ececee" textLength="13.6" lengthAdjust="spacingAndGlyphs">CHNT</text>
<rect x="653.20" y="368.20" width="11.40" height="11.30" fill="#dadadc" stroke="#a2a2a4" stroke-width="0.45"/>
<rect x="654.90" y="369.50" width="8.90" height="7.90" fill="#1b7099"/>
<rect x="654.90" y="369.50" width="8.90" height="1.20" fill="#2a86b0" opacity="0.8"/>
<ellipse cx="659.30" cy="373.35" rx="1.80" ry="1.50" fill="#b8dcea" opacity="0.9"/>
<rect x="653.20" y="389.60" width="11.40" height="9.00" fill="#dadadc" stroke="#a2a2a4" stroke-width="0.45"/>
<rect x="654.90" y="390.90" width="8.90" height="5.60" fill="#1b7099"/>
<rect x="654.90" y="390.90" width="8.90" height="1.20" fill="#2a86b0" opacity="0.8"/>
<ellipse cx="659.30" cy="393.60" rx="1.80" ry="1.50" fill="#b8dcea" opacity="0.9"/>
<rect x="649.70" y="372.20" width="1.00" height="4.60" fill="#f4f4f6"/>
<rect x="649.70" y="392.00" width="1.00" height="4.00" fill="#f4f4f6"/>
<ellipse cx="705.20" cy="390.20" rx="24.00" ry="2.60" fill="url(#gShadow)"/>
<ellipse cx="705.20" cy="410.00" rx="22.00" ry="2.40" fill="url(#gShadow)"/>
<polygon points="691.20,356.60 698.50,355.30 698.50,410.40 691.20,409.60" fill="#808082"/>
<rect x="698.50" y="358.40" width="20.40" height="51.80" fill="url(#gBoxB)"/>
<polygon points="698.50,355.30 718.90,356.20 718.90,358.80 698.50,358.80" fill="#8e8e90"/>
<polygon points="699.10,355.30 705.50,355.60 705.50,357.30 699.10,357.10" fill="#4a76bc"/>
<rect x="715.30" y="356.60" width="3.00" height="1.90" fill="#d8d8da"/>
<rect x="691.20" y="389.40" width="27.70" height="1.10" fill="#9a9a9c" opacity="0.55"/>
<rect x="698.50" y="390.60" width="20.40" height="0.80" fill="#f4f4f6"/>
<polygon points="691.20,390.60 698.50,390.60 698.50,410.40 691.20,409.60" fill="#747476" opacity="0.25"/>
<text transform="translate(693.70,359.10) rotate(90)" font-size="3.1" fill="#ececee" textLength="13.6" lengthAdjust="spacingAndGlyphs">CHNT</text>
<rect x="703.10" y="368.20" width="11.40" height="11.30" fill="#dadadc" stroke="#a2a2a4" stroke-width="0.45"/>
<rect x="704.80" y="369.50" width="8.90" height="7.90" fill="#1b7099"/>
<rect x="704.80" y="369.50" width="8.90" height="1.20" fill="#2a86b0" opacity="0.8"/>
<ellipse cx="709.20" cy="373.35" rx="1.80" ry="1.50" fill="#b8dcea" opacity="0.9"/>
<rect x="703.10" y="389.60" width="11.40" height="9.00" fill="#dadadc" stroke="#a2a2a4" stroke-width="0.45"/>
<rect x="704.80" y="390.90" width="8.90" height="5.60" fill="#1b7099"/>
<rect x="704.80" y="390.90" width="8.90" height="1.20" fill="#2a86b0" opacity="0.8"/>
<ellipse cx="709.20" cy="393.60" rx="1.80" ry="1.50" fill="#b8dcea" opacity="0.9"/>
<rect x="699.60" y="372.20" width="1.00" height="4.60" fill="#f4f4f6"/>
<rect x="699.60" y="392.00" width="1.00" height="4.00" fill="#f4f4f6"/>
<ellipse cx="746.00" cy="390.20" rx="24.00" ry="2.60" fill="url(#gShadow)"/>
<ellipse cx="746.00" cy="410.00" rx="22.00" ry="2.40" fill="url(#gShadow)"/>
<polygon points="732.00,356.60 739.30,355.30 739.30,410.40 732.00,409.60" fill="#808082"/>
<rect x="739.30" y="358.40" width="20.40" height="51.80" fill="url(#gBoxB)"/>
<polygon points="739.30,355.30 759.70,356.20 759.70,358.80 739.30,358.80" fill="#8e8e90"/>
<polygon points="739.90,355.30 746.30,355.60 746.30,357.30 739.90,357.10" fill="#4a76bc"/>
<rect x="756.10" y="356.60" width="3.00" height="1.90" fill="#d8d8da"/>
<rect x="732.00" y="389.40" width="27.70" height="1.10" fill="#9a9a9c" opacity="0.55"/>
<rect x="739.30" y="390.60" width="20.40" height="0.80" fill="#f4f4f6"/>
<polygon points="732.00,390.60 739.30,390.60 739.30,410.40 732.00,409.60" fill="#747476" opacity="0.25"/>
<text transform="translate(734.50,359.10) rotate(90)" font-size="3.1" fill="#ececee" textLength="13.6" lengthAdjust="spacingAndGlyphs">CHNT</text>
<rect x="743.90" y="368.20" width="11.40" height="11.30" fill="#dadadc" stroke="#a2a2a4" stroke-width="0.45"/>
<rect x="745.60" y="369.50" width="8.90" height="7.90" fill="#1b7099"/>
<rect x="745.60" y="369.50" width="8.90" height="1.20" fill="#2a86b0" opacity="0.8"/>
<ellipse cx="750.00" cy="373.35" rx="1.80" ry="1.50" fill="#b8dcea" opacity="0.9"/>
<rect x="743.90" y="389.60" width="11.40" height="9.00" fill="#dadadc" stroke="#a2a2a4" stroke-width="0.45"/>
<rect x="745.60" y="390.90" width="8.90" height="5.60" fill="#1b7099"/>
<rect x="745.60" y="390.90" width="8.90" height="1.20" fill="#2a86b0" opacity="0.8"/>
<ellipse cx="750.00" cy="393.60" rx="1.80" ry="1.50" fill="#b8dcea" opacity="0.9"/>
<rect x="740.40" y="372.20" width="1.00" height="4.60" fill="#f4f4f6"/>
<rect x="740.40" y="392.00" width="1.00" height="4.00" fill="#f4f4f6"/>
<text x="323.2" y="457" font-size="9" text-anchor="middle" fill="#343436" textLength="27.1" lengthAdjust="spacingAndGlyphs">Chilled</text>
<text x="323.2" y="467" font-size="9" text-anchor="middle" fill="#343436" textLength="23.3" lengthAdjust="spacingAndGlyphs">Water</text>
<text x="323.2" y="477" font-size="9" text-anchor="middle" fill="#343436" textLength="23.2" lengthAdjust="spacingAndGlyphs">Pump</text>
<text x="323.2" y="487" font-size="9" text-anchor="middle" fill="#343436" textLength="38.2" lengthAdjust="spacingAndGlyphs">Efficiency</text>
<text x="323.2" y="497" font-size="9" text-anchor="middle" fill="#343436" textLength="30.6" lengthAdjust="spacingAndGlyphs">Cabinet</text>
<text x="373.1" y="457" font-size="9" text-anchor="middle" fill="#343436" textLength="30.1" lengthAdjust="spacingAndGlyphs">Cooling</text>
<text x="373.1" y="467" font-size="9" text-anchor="middle" fill="#343436" textLength="23.3" lengthAdjust="spacingAndGlyphs">Water</text>
<text x="373.1" y="477" font-size="9" text-anchor="middle" fill="#343436" textLength="23.2" lengthAdjust="spacingAndGlyphs">Pump</text>
<text x="373.1" y="487" font-size="9" text-anchor="middle" fill="#343436" textLength="38.2" lengthAdjust="spacingAndGlyphs">Efficiency</text>
<text x="373.1" y="497" font-size="9" text-anchor="middle" fill="#343436" textLength="30.6" lengthAdjust="spacingAndGlyphs">Cabinet</text>
<text x="418.7" y="457" font-size="9" text-anchor="middle" fill="#343436" textLength="30.1" lengthAdjust="spacingAndGlyphs">Cooling</text>
<text x="418.7" y="467" font-size="9" text-anchor="middle" fill="#343436" textLength="23.6" lengthAdjust="spacingAndGlyphs">Tower</text>
<text x="418.7" y="477" font-size="9" text-anchor="middle" fill="#343436" textLength="38.2" lengthAdjust="spacingAndGlyphs">Efficiency</text>
<text x="418.7" y="487" font-size="9" text-anchor="middle" fill="#343436" textLength="30.6" lengthAdjust="spacingAndGlyphs">Cabinet</text>
<text x="466.0" y="458" font-size="9" text-anchor="middle" fill="#343436" textLength="11.8" lengthAdjust="spacingAndGlyphs">Ice</text>
<text x="466.0" y="469" font-size="9" text-anchor="middle" fill="#343436" textLength="31.1" lengthAdjust="spacingAndGlyphs">Storage</text>
<text x="466.0" y="479" font-size="9" text-anchor="middle" fill="#343436" textLength="38.2" lengthAdjust="spacingAndGlyphs">Efficiency</text>
<text x="466.0" y="489" font-size="9" text-anchor="middle" fill="#343436" textLength="30.6" lengthAdjust="spacingAndGlyphs">Cabinet</text>
<text x="512.7" y="458" font-size="9" text-anchor="middle" fill="#343436" textLength="39.6" lengthAdjust="spacingAndGlyphs">Hot Water</text>
<text x="512.7" y="469" font-size="9" text-anchor="middle" fill="#343436" textLength="41.9" lengthAdjust="spacingAndGlyphs">Circulation</text>
<text x="512.7" y="479" font-size="9" text-anchor="middle" fill="#343436" textLength="23.2" lengthAdjust="spacingAndGlyphs">Pump</text>
<text x="512.7" y="489" font-size="9" text-anchor="middle" fill="#343436" textLength="38.2" lengthAdjust="spacingAndGlyphs">Efficiency</text>
<text x="512.7" y="499" font-size="9" text-anchor="middle" fill="#343436" textLength="30.6" lengthAdjust="spacingAndGlyphs">Cabinet</text>
<text x="555.0" y="422" font-size="9" text-anchor="middle" fill="#343436" textLength="21.7" lengthAdjust="spacingAndGlyphs">Valve</text>
<text x="555.0" y="432" font-size="9" text-anchor="middle" fill="#343436" textLength="30.6" lengthAdjust="spacingAndGlyphs">Control</text>
<text x="555.0" y="442" font-size="9" text-anchor="middle" fill="#343436" textLength="15.1" lengthAdjust="spacingAndGlyphs">Box</text>
<text x="595.2" y="422" font-size="9" text-anchor="middle" fill="#343436" textLength="29.0" lengthAdjust="spacingAndGlyphs">Energy</text>
<text x="595.2" y="432" font-size="9" text-anchor="middle" fill="#343436" textLength="38.2" lengthAdjust="spacingAndGlyphs">Efficiency</text>
<text x="595.2" y="442" font-size="9" text-anchor="middle" fill="#343436" textLength="32.0" lengthAdjust="spacingAndGlyphs">Analysis</text>
<text x="595.2" y="452" font-size="9" text-anchor="middle" fill="#343436" textLength="15.1" lengthAdjust="spacingAndGlyphs">Box</text>
<text x="653.7" y="422" font-size="9" text-anchor="middle" fill="#343436" textLength="11.5" lengthAdjust="spacingAndGlyphs">Air</text>
<text x="653.7" y="432" font-size="9" text-anchor="middle" fill="#343436" textLength="50.7" lengthAdjust="spacingAndGlyphs">Conditioning</text>
<text x="653.7" y="442" font-size="9" text-anchor="middle" fill="#343436" textLength="46.8" lengthAdjust="spacingAndGlyphs">Control Box</text>
<text x="701.9" y="422" font-size="9" text-anchor="middle" fill="#343436" textLength="14.5" lengthAdjust="spacingAndGlyphs">Fan</text>
<text x="701.9" y="432" font-size="9" text-anchor="middle" fill="#343436" textLength="30.6" lengthAdjust="spacingAndGlyphs">Control</text>
<text x="701.9" y="442" font-size="9" text-anchor="middle" fill="#343436" textLength="15.1" lengthAdjust="spacingAndGlyphs">Box</text>
<text x="748.0" y="422" font-size="9" text-anchor="middle" fill="#343436" textLength="32.5" lengthAdjust="spacingAndGlyphs">Lighting</text>
<text x="748.0" y="432" font-size="9" text-anchor="middle" fill="#343436" textLength="30.6" lengthAdjust="spacingAndGlyphs">Control</text>
<text x="748.0" y="442" font-size="9" text-anchor="middle" fill="#343436" textLength="15.1" lengthAdjust="spacingAndGlyphs">Box</text>
<line x1="324.5" y1="504.0" x2="324.5" y2="516.0" stroke="#868688" stroke-width="1.1" stroke-dasharray="5.3 1.9" stroke-dashoffset="0.20"/>
<line x1="370.9" y1="504.0" x2="370.9" y2="516.0" stroke="#868688" stroke-width="1.1" stroke-dasharray="5.3 1.9" stroke-dashoffset="0.50"/>
<line x1="418.6" y1="494.0" x2="418.6" y2="516.4" stroke="#868688" stroke-width="1.1" stroke-dasharray="5.3 1.9" stroke-dashoffset="1.10"/>
<line x1="466.5" y1="494.0" x2="466.5" y2="511.4" stroke="#868688" stroke-width="1.1" stroke-dasharray="5.3 1.9" stroke-dashoffset="2.60"/>
<line x1="512.1" y1="505.3" x2="512.1" y2="516.0" stroke="#868688" stroke-width="1.1" stroke-dasharray="5.3 1.9" stroke-dashoffset="0.30"/>
<line x1="555.4" y1="445.8" x2="555.4" y2="514.6" stroke="#868688" stroke-width="1.1" stroke-dasharray="5.3 1.9"/>
<line x1="595.7" y1="455.4" x2="595.7" y2="494.6" stroke="#868688" stroke-width="1.1" stroke-dasharray="5.3 1.9"/>
<polyline points="576.5,493.2 576.5,482.9 616.4,482.9 616.4,493.2" fill="none" stroke="#868688" stroke-width="1.1" stroke-dasharray="5.3 1.9"/>
<line x1="654.4" y1="447.0" x2="654.4" y2="520.6" stroke="#868688" stroke-width="1.1" stroke-dasharray="5.3 1.9"/>
<line x1="703.6" y1="447.0" x2="703.6" y2="516.2" stroke="#868688" stroke-width="1.1" stroke-dasharray="5.3 1.9"/>
<line x1="749.6" y1="447.0" x2="749.6" y2="516.2" stroke="#868688" stroke-width="1.1" stroke-dasharray="5.3 1.9"/>
<rect x="198.00" y="531.30" width="4.00" height="1.80" fill="#c6c6c8"/>
<rect x="245.20" y="531.40" width="2.00" height="1.80" fill="#c2c2c4"/>
<rect x="198.00" y="535.80" width="4.00" height="1.80" fill="#c6c6c8"/>
<rect x="245.20" y="535.90" width="2.00" height="1.80" fill="#c2c2c4"/>
<path d="M208.9,523.2 v-2.6 a1.7,1.7 0 0 1 1.7,-1.7 h3.8" fill="none" stroke="#b6b6b8" stroke-width="1.7"/>
<rect x="201.1" y="521.9" width="14" height="8.2" rx="2.6" fill="#c7c7c9"/>
<rect x="236.0" y="522.8" width="4.8" height="8.4" rx="2.2" fill="#c4c4c6"/>
<rect x="201.4" y="528.6" width="39.2" height="10.0" rx="2.2" fill="#cccccf"/>
<rect x="217.00" y="532.30" width="20.40" height="1.90" fill="#b4b4b6"/>
<line x1="214.4" y1="534.4" x2="214.4" y2="538.4" stroke="#bdbdbf" stroke-width="0.4"/>
<line x1="224.6" y1="534.4" x2="224.6" y2="538.4" stroke="#bdbdbf" stroke-width="0.4"/>
<line x1="234.6" y1="534.4" x2="234.6" y2="538.4" stroke="#bdbdbf" stroke-width="0.4"/>
<rect x="208.10" y="538.40" width="29.00" height="2.40" fill="#dadadc" stroke="#b4b4b6" stroke-width="0.45"/>
<rect x="221.00" y="538.60" width="1.40" height="1.60" fill="#ffffff"/>
<polygon points="201.10,528.70 206.60,531.10 207.20,544.50 205.00,544.50 201.10,539.60" fill="#a9a9ab"/>
<polygon points="204.20,530.10 206.60,531.10 207.20,544.50 205.60,544.50" fill="#bcbcbe"/>
<polygon points="238.80,529.00 245.50,531.40 245.20,544.50 243.00,544.50 238.80,539.60" fill="#a9a9ab"/>
<polygon points="238.80,529.00 241.20,529.90 243.80,544.50 243.00,544.50 238.80,539.60" fill="#b9b9bb"/>
<rect x="214.00" y="515.20" width="24.80" height="16.80" fill="#cacacc"/>
<rect x="214.00" y="515.20" width="24.80" height="0.80" fill="#a9a9ab"/>
<rect x="214.00" y="515.20" width="1.20" height="16.80" fill="#8c8c8e"/>
<line x1="223.5" y1="516.0" x2="223.5" y2="532.0" stroke="#b0b0b2" stroke-width="0.5"/>
<line x1="230.9" y1="516.0" x2="230.9" y2="532.0" stroke="#b6b6b8" stroke-width="0.5"/>
<line x1="223.5" y1="524.4" x2="238.8" y2="524.4" stroke="#bababc" stroke-width="0.45"/>
<rect x="225.1" y="518.9" width="4.6" height="3.7" fill="#d6d6d8" stroke="#a2a2a4" stroke-width="0.55"/>
<circle cx="234.60" cy="527.80" r="3.90" fill="#dededf" stroke="#bcbcbe" stroke-width="0.5"/>
<polygon points="235.20,525.20 233.50,528.00 234.70,528.00 233.90,530.40 236.00,527.40 234.70,527.40" fill="#2f58b4"/>
<rect x="283.00" y="518.90" width="9.60" height="3.60" fill="#c4c4c6"/>
<rect x="284.00" y="518.00" width="1.60" height="1.20" fill="#c4c4c6"/>
<rect x="254.60" y="524.30" width="5.40" height="3.00" fill="#c6c6c8"/>
<rect x="254.60" y="523.80" width="1.20" height="4.00" fill="#cfcfd1"/>
<rect x="254.60" y="534.00" width="5.40" height="3.00" fill="#c6c6c8"/>
<rect x="254.60" y="533.50" width="1.20" height="4.00" fill="#cfcfd1"/>
<path d="M262.6,521.9 H292.8 Q300,522.4 300,530.9 Q300,539.4 292.8,539.9 H262.6 Q259.0,539.6 259.0,536.4 V525.4 Q259.0,522.2 262.6,521.9 Z" fill="url(#gCyl)"/>
<path d="M264.4,522.2 Q267.8,531 264.4,539.6" fill="none" stroke="#b4b4b6" stroke-width="0.5"/>
<path d="M294.5,522.4 Q298.4,531 294.5,539.6" fill="none" stroke="#b9b9bb" stroke-width="0.5"/>
<rect x="263.40" y="539.40" width="1.60" height="2.40" fill="#bcbcbe"/>
<rect x="291.60" y="539.40" width="1.60" height="2.40" fill="#bcbcbe"/>
<rect x="262.00" y="541.20" width="37.20" height="1.50" fill="#cbcbcd"/>
<circle cx="281.50" cy="530.60" r="4.60" fill="#d0d0d2" stroke="#b6b6b8" stroke-width="0.6"/>
<path d="M281.6,527.6 q1.3,1.4 0.8,2.6 q1.0,-0.4 1.1,-1.2 q1.0,1.6 0.2,3.2 q-0.8,1.4 -2.3,1.3 q-1.8,-0.1 -2.2,-1.8 q-0.3,-1.4 0.7,-2.4 q0.2,0.8 0.7,1.0 q-0.1,-1.6 1.0,-2.7 Z" fill="#e8913a"/>
<path d="M313.40,537.4 h21.6 v4.6 q-10.8,4.6 -21.6,0 Z" fill="#c6c6c8"/>
<rect x="312.30" y="535.8" width="2.2" height="8.8" rx="0.8" fill="#bdbdbf"/>
<rect x="333.90" y="535.8" width="2.2" height="8.8" rx="0.8" fill="#bdbdbf"/>
<ellipse cx="324.20" cy="538.6" rx="6.6" ry="2.0" fill="#d8d8da"/>
<rect x="319.30" y="533.40" width="9.80" height="4.60" fill="#cfcfd1"/>
<rect x="318.30" y="516.1" width="11.8" height="19" rx="1.6" fill="#d3d3d5"/>
<rect x="318.30" y="520.40" width="11.80" height="13.20" fill="url(#gMotor)"/>
<ellipse cx="324.20" cy="517.2" rx="5.6" ry="1.1" fill="#e2e2e4"/>
<circle cx="324.20" cy="528.00" r="2.90" fill="#e9e9eb" stroke="#b4b4b6" stroke-width="0.4"/>
<rect x="322.70" y="526.60" width="1.20" height="2.80" fill="#3561b6"/>
<rect x="324.50" y="526.60" width="1.20" height="2.80" fill="#3561b6"/>
<path d="M360.00,537.4 h21.6 v4.6 q-10.8,4.6 -21.6,0 Z" fill="#c6c6c8"/>
<rect x="358.90" y="535.8" width="2.2" height="8.8" rx="0.8" fill="#bdbdbf"/>
<rect x="380.50" y="535.8" width="2.2" height="8.8" rx="0.8" fill="#bdbdbf"/>
<ellipse cx="370.80" cy="538.6" rx="6.6" ry="2.0" fill="#d8d8da"/>
<rect x="365.90" y="533.40" width="9.80" height="4.60" fill="#cfcfd1"/>
<rect x="364.90" y="516.1" width="11.8" height="19" rx="1.6" fill="#d3d3d5"/>
<rect x="364.90" y="520.40" width="11.80" height="13.20" fill="url(#gMotor)"/>
<ellipse cx="370.80" cy="517.2" rx="5.6" ry="1.1" fill="#e2e2e4"/>
<circle cx="370.80" cy="528.00" r="2.90" fill="#e9e9eb" stroke="#b4b4b6" stroke-width="0.4"/>
<rect x="369.30" y="526.60" width="1.20" height="2.80" fill="#3561b6"/>
<rect x="371.10" y="526.60" width="1.20" height="2.80" fill="#3561b6"/>
<path d="M500.80,537.4 h21.6 v4.6 q-10.8,4.6 -21.6,0 Z" fill="#c6c6c8"/>
<rect x="499.70" y="535.8" width="2.2" height="8.8" rx="0.8" fill="#bdbdbf"/>
<rect x="521.30" y="535.8" width="2.2" height="8.8" rx="0.8" fill="#bdbdbf"/>
<ellipse cx="511.60" cy="538.6" rx="6.6" ry="2.0" fill="#d8d8da"/>
<rect x="506.70" y="533.40" width="9.80" height="4.60" fill="#cfcfd1"/>
<rect x="505.70" y="516.1" width="11.8" height="19" rx="1.6" fill="#d3d3d5"/>
<rect x="505.70" y="520.40" width="11.80" height="13.20" fill="url(#gMotor)"/>
<ellipse cx="511.60" cy="517.2" rx="5.6" ry="1.1" fill="#e2e2e4"/>
<circle cx="511.60" cy="528.00" r="2.90" fill="#e9e9eb" stroke="#b4b4b6" stroke-width="0.4"/>
<rect x="510.10" y="526.60" width="1.20" height="2.80" fill="#3561b6"/>
<rect x="511.90" y="526.60" width="1.20" height="2.80" fill="#3561b6"/>
<rect x="399.8" y="526.2" width="4.4" height="3.0" rx="1.2" fill="#c9c9cb"/>
<rect x="399.8" y="530.6" width="4.4" height="3.0" rx="1.2" fill="#c9c9cb"/>
<polygon points="401.00,518.00 407.60,524.60 407.60,544.80 401.00,539.40" fill="#acacae"/>
<polygon points="401.00,518.00 429.20,518.00 436.20,524.60 407.60,524.60" fill="#b9b9bb"/>
<rect x="407.60" y="524.60" width="28.60" height="20.20" fill="#c2c2c4"/>
<rect x="409.60" y="526.00" width="2.60" height="11.60" fill="#d3d3d5"/>
<rect x="413.40" y="526.00" width="2.60" height="11.60" fill="#d3d3d5"/>
<rect x="417.20" y="526.00" width="2.60" height="11.60" fill="#d3d3d5"/>
<rect x="421.00" y="526.00" width="2.60" height="11.60" fill="#d3d3d5"/>
<rect x="424.80" y="526.00" width="2.60" height="11.60" fill="#d3d3d5"/>
<rect x="428.60" y="526.00" width="2.60" height="11.60" fill="#d3d3d5"/>
<rect x="432.40" y="526.00" width="2.60" height="11.60" fill="#d3d3d5"/>
<rect x="407.60" y="538.00" width="28.60" height="6.80" fill="#b4b4b6"/>
<rect x="407.60" y="537.60" width="28.60" height="0.60" fill="#a6a6a8"/>
<ellipse cx="418.30" cy="518.70" rx="6.60" ry="2.60" fill="#d4d4d6" stroke="#a9a9ab" stroke-width="0.5"/>
<ellipse cx="418.30" cy="518.40" rx="4.30" ry="1.50" fill="#bcbcbe"/>
<ellipse cx="418.30" cy="518.50" rx="2.20" ry="0.80" fill="#d0d0d2"/>
<circle cx="431.40" cy="540.70" r="2.80" fill="#e2e2e4" stroke="#b4b4b6" stroke-width="0.4"/>
<polygon points="431.90,538.80 430.50,540.90 431.40,540.90 430.90,542.60 432.40,540.40 431.50,540.40" fill="#2f58b4"/>
<polygon points="448.00,513.20 457.40,512.00 457.40,545.40 448.00,543.60" fill="#b0b0b2"/>
<polygon points="454.40,512.40 457.40,512.00 457.40,545.40 454.40,544.80" fill="#c2c2c4"/>
<rect x="450.00" y="526.60" width="1.80" height="3.20" fill="#8e8e90"/>
<polygon points="457.40,512.00 481.80,514.00 481.80,542.40 457.40,545.40" fill="#cacacc"/>
<rect x="457.20" y="512.00" width="1.00" height="33.40" fill="#7e7e80"/>
<line x1="466.0" y1="512.8" x2="466.0" y2="544.4" stroke="#a4a4a6" stroke-width="0.6"/>
<line x1="474.2" y1="512.8" x2="474.2" y2="544.4" stroke="#a4a4a6" stroke-width="0.6"/>
<line x1="458.4" y1="528.0" x2="481.8" y2="527.8" stroke="#b2b2b4" stroke-width="0.5"/>
<rect x="460.80" y="515.85" width="2.60" height="0.90" fill="#7c7c7e"/>
<rect x="469.00" y="516.34" width="2.60" height="0.90" fill="#7c7c7e"/>
<rect x="477.00" y="516.82" width="2.60" height="0.90" fill="#7c7c7e"/>
<rect x="552.90" y="515.20" width="5.00" height="8.40" fill="#3b8fb1"/>
<rect x="552.10" y="514.80" width="6.60" height="1.40" fill="#2f7fa1"/>
<rect x="552.90" y="536.40" width="5.00" height="8.40" fill="#3b8fb1"/>
<rect x="552.10" y="543.80" width="6.60" height="1.40" fill="#2f7fa1"/>
<rect x="549.3" y="523.0" width="12.5" height="13.9" rx="0.8" fill="#62b4d0"/>
<circle cx="555.50" cy="529.70" r="5.60" fill="#3f9b47"/>
<circle cx="555.50" cy="529.70" r="1.70" fill="#cfd8d0"/>
<circle cx="555.50" cy="529.70" r="0.80" fill="#8aa08c"/>
<rect x="577.10" y="510.00" width="1.80" height="35.60" fill="#b4b4b6"/>
<circle cx="578.00" cy="503.70" r="6.50" fill="#fbfbfb" stroke="#646467" stroke-width="2.8"/>
<circle cx="578.00" cy="522.60" r="6.50" fill="#fbfbfb" stroke="#646467" stroke-width="2.8"/>
<rect x="576.40" y="511.40" width="3.20" height="1.60" fill="#77777a"/>
<rect x="576.40" y="530.40" width="3.20" height="1.60" fill="#77777a"/>
<rect x="577.30" y="514.60" width="1.40" height="16.00" fill="#c9c9cb"/>
<rect x="595.90" y="510.00" width="1.80" height="35.60" fill="#b4b4b6"/>
<circle cx="596.80" cy="503.70" r="7.40" fill="#d6d6d8" stroke="#a2a2a4" stroke-width="0.9"/>
<circle cx="596.80" cy="503.70" r="5.40" fill="#e2e2e4" stroke="#bcbcbe" stroke-width="0.6"/>
<circle cx="596.80" cy="522.60" r="7.40" fill="#d6d6d8" stroke="#a2a2a4" stroke-width="0.9"/>
<circle cx="596.80" cy="522.60" r="5.40" fill="#e2e2e4" stroke="#bcbcbe" stroke-width="0.6"/>
<rect x="595.20" y="511.40" width="3.20" height="1.60" fill="#77777a"/>
<rect x="595.20" y="530.40" width="3.20" height="1.60" fill="#77777a"/>
<rect x="596.10" y="514.60" width="1.40" height="16.00" fill="#c9c9cb"/>
<rect x="615.30" y="510.00" width="1.80" height="35.60" fill="#b4b4b6"/>
<circle cx="616.20" cy="503.70" r="6.50" fill="#fbfbfb" stroke="#646467" stroke-width="2.8"/>
<circle cx="616.20" cy="522.60" r="6.50" fill="#fbfbfb" stroke="#646467" stroke-width="2.8"/>
<rect x="614.60" y="511.40" width="3.20" height="1.60" fill="#77777a"/>
<rect x="614.60" y="530.40" width="3.20" height="1.60" fill="#77777a"/>
<rect x="615.50" y="514.60" width="1.40" height="16.00" fill="#c9c9cb"/>
<polygon points="578.00,501.20 579.60,502.60 579.00,506.00 577.00,506.00 576.40,502.60" fill="#b03434"/>
<line x1="595.2" y1="502.4" x2="598.6" y2="505.2" stroke="#d07a7a" stroke-width="0.6"/>
<path d="M615.4,501.4 l1.6,1.4 l-1.6,1.2 l1.8,1.6" fill="none" stroke="#c04a4a" stroke-width="0.7"/>
<polygon points="578.00,520.80 579.00,521.80 578.60,524.20 577.40,524.20 577.00,521.80" fill="#e0a0a0"/>
<line x1="595.6" y1="521.8" x2="597.8" y2="523.6" stroke="#e4b4b4" stroke-width="0.5"/>
<path d="M615.6,520.8 l1.2,1.2 l-1.2,1.0 l1.4,1.4" fill="none" stroke="#e0a8a8" stroke-width="0.6"/>
<rect x="635.30" y="518.30" width="11.60" height="3.00" fill="#cdcdcf"/>
<rect x="642.60" y="518.90" width="1.60" height="1.20" fill="#5a7ac8"/>
<polygon points="632.20,520.80 680.80,520.80 680.80,537.40 641.60,544.60 632.20,541.00" fill="#c6c6c8"/>
<polygon points="632.20,520.80 641.80,521.60 641.80,544.60 632.20,541.00" fill="#bebec0"/>
<polygon points="641.80,521.60 652.40,521.20 652.40,542.80 641.80,544.60" fill="#c2c2c4"/>
<polygon points="652.40,521.20 661.00,521.00 661.00,541.00 652.40,542.80" fill="#d1d1d3"/>
<polygon points="661.00,521.00 672.00,520.90 672.00,539.00 661.00,541.00" fill="#c9c9cb"/>
<polygon points="672.00,520.90 680.80,520.80 680.80,537.40 672.00,539.00" fill="#c0c0c2"/>
<line x1="632.4" y1="531.4" x2="641.6" y2="533.6" stroke="#adadaf" stroke-width="0.5"/>
<polygon points="643.80,526.00 650.60,525.60 650.60,539.00 643.80,540.20" fill="#d6d6d8"/>
<polygon points="645.40,527.40 649.20,527.20 649.20,537.40 645.40,538.00" fill="#77777a"/>
<polygon points="676.40,524.80 680.20,524.60 680.20,534.60 676.40,535.20" fill="#d6d6d8"/>
<polygon points="677.50,526.00 679.60,525.90 679.60,533.60 677.50,534.00" fill="#77777a"/>
<rect x="655.80" y="524.00" width="3.00" height="0.90" fill="#8e8e90"/>
<polygon points="632.20,541.00 641.60,544.60 680.80,537.40 680.80,538.40 641.60,545.80 632.20,542.00" fill="#a9a9ab"/>
<polygon points="689.40,523.80 701.00,523.80 700.40,541.00 694.60,535.00" fill="#a2a2a4"/>
<polygon points="692.00,526.20 700.80,526.20 700.60,534.00 696.20,531.00" fill="#b8b8ba"/>
<path d="M699.8,523.8 H720.6 a4,4 0 0 1 3.4,2.0 A11.4,11.4 0 1 1 701.4,534.6 Z" fill="#cacacc"/>
<circle cx="712.90" cy="534.50" r="11.20" fill="#c9c9cb"/>
<circle cx="712.90" cy="535.00" r="8.30" fill="#8b8b8e"/>
<path d="M714.18,535.23 Q717.52,536.30 717.39,540.75" fill="none" stroke="#f0f0f2" stroke-width="1.5" stroke-linecap="round"/>
<path d="M713.34,536.22 Q714.08,539.65 710.17,541.77" fill="none" stroke="#f0f0f2" stroke-width="1.5" stroke-linecap="round"/>
<path d="M712.06,536.00 Q709.46,538.35 705.67,536.02" fill="none" stroke="#f0f0f2" stroke-width="1.5" stroke-linecap="round"/>
<path d="M711.62,534.77 Q708.28,533.70 708.41,529.25" fill="none" stroke="#f0f0f2" stroke-width="1.5" stroke-linecap="round"/>
<path d="M712.46,533.78 Q711.72,530.35 715.63,528.23" fill="none" stroke="#f0f0f2" stroke-width="1.5" stroke-linecap="round"/>
<path d="M713.74,534.00 Q716.34,531.65 720.13,533.98" fill="none" stroke="#f0f0f2" stroke-width="1.5" stroke-linecap="round"/>
<circle cx="712.90" cy="535.00" r="1.30" fill="#e4e4e6"/>
<rect x="688.00" y="515.90" width="36.90" height="8.00" fill="#d3d3d5"/>
<rect x="688.00" y="522.90" width="36.90" height="1.00" fill="#bdbdbf"/>
<rect x="738.40" y="527.00" width="2.60" height="4.40" fill="#9a9a9c"/>
<circle cx="739.70" cy="521.90" r="5.20" fill="#fbfbfb" stroke="#8e8e90" stroke-width="1.5"/>
<polygon points="737.10,520.40 739.30,518.80 742.10,519.60 742.10,524.40 737.10,524.80" fill="#f1d468"/>
<rect x="753.50" y="527.00" width="2.60" height="4.40" fill="#9a9a9c"/>
<circle cx="754.80" cy="521.90" r="5.20" fill="#fbfbfb" stroke="#8e8e90" stroke-width="1.5"/>
<polygon points="752.20,520.40 754.40,518.80 757.20,519.60 757.20,524.40 752.20,524.80" fill="#f1d468"/>
<rect x="733.60" y="531.00" width="27.20" height="14.80" fill="#cfcfd1"/>
<polygon points="756.40,531.00 760.80,531.00 760.80,545.80 745.60,545.80" fill="#dededf"/>
<circle cx="738.20" cy="541.70" r="0.80" fill="#e0905a"/>
<circle cx="741.90" cy="541.70" r="0.80" fill="#7ec0e6"/>
<rect x="733.60" y="545.00" width="27.20" height="0.80" fill="#b6b6b8"/>
<text x="224.0" y="562" font-size="9" text-anchor="middle" fill="#343436" textLength="23.7" lengthAdjust="spacingAndGlyphs">Chiller</text>
<text x="277.0" y="562" font-size="9" text-anchor="middle" fill="#343436" textLength="21.4" lengthAdjust="spacingAndGlyphs">Boiler</text>
<text x="324.9" y="562" font-size="9" text-anchor="middle" fill="#343436" textLength="26.6" lengthAdjust="spacingAndGlyphs">Chilled</text>
<text x="324.9" y="571" font-size="9" text-anchor="middle" fill="#343436" textLength="22.8" lengthAdjust="spacingAndGlyphs">Water</text>
<text x="324.9" y="580" font-size="9" text-anchor="middle" fill="#343436" textLength="22.7" lengthAdjust="spacingAndGlyphs">Pump</text>
<text x="370.0" y="562" font-size="9" text-anchor="middle" fill="#343436" textLength="29.5" lengthAdjust="spacingAndGlyphs">Cooling</text>
<text x="370.0" y="571" font-size="9" text-anchor="middle" fill="#343436" textLength="22.8" lengthAdjust="spacingAndGlyphs">Water</text>
<text x="370.0" y="580" font-size="9" text-anchor="middle" fill="#343436" textLength="22.7" lengthAdjust="spacingAndGlyphs">Pump</text>
<text x="417.0" y="562" font-size="9" text-anchor="middle" fill="#343436" textLength="29.5" lengthAdjust="spacingAndGlyphs">Cooling</text>
<text x="417.0" y="571" font-size="9" text-anchor="middle" fill="#343436" textLength="23.2" lengthAdjust="spacingAndGlyphs">Tower</text>
<text x="462.2" y="562" font-size="9" text-anchor="middle" fill="#343436" textLength="11.6" lengthAdjust="spacingAndGlyphs">Ice</text>
<text x="462.2" y="571" font-size="9" text-anchor="middle" fill="#343436" textLength="30.4" lengthAdjust="spacingAndGlyphs">Storage</text>
<text x="462.2" y="580" font-size="9" text-anchor="middle" fill="#343436" textLength="41.5" lengthAdjust="spacingAndGlyphs">Equipment</text>
<text x="509.6" y="562" font-size="9" text-anchor="middle" fill="#343436" textLength="38.8" lengthAdjust="spacingAndGlyphs">Hot Water</text>
<text x="509.6" y="571" font-size="9" text-anchor="middle" fill="#343436" textLength="41.0" lengthAdjust="spacingAndGlyphs">Circulation</text>
<text x="509.6" y="580" font-size="9" text-anchor="middle" fill="#343436" textLength="22.7" lengthAdjust="spacingAndGlyphs">Pump</text>
<text x="552.8" y="562" font-size="9" text-anchor="middle" fill="#343436" textLength="28.5" lengthAdjust="spacingAndGlyphs">Electric</text>
<text x="552.8" y="571" font-size="9" text-anchor="middle" fill="#343436" textLength="34.3" lengthAdjust="spacingAndGlyphs">Actuated</text>
<text x="552.8" y="580" font-size="9" text-anchor="middle" fill="#343436" textLength="21.1" lengthAdjust="spacingAndGlyphs">Valve</text>
<text x="652.7" y="562" font-size="9" text-anchor="middle" fill="#343436" textLength="10.6" lengthAdjust="spacingAndGlyphs">Air</text>
<text x="652.7" y="571" font-size="9" text-anchor="middle" fill="#343436" textLength="34.3" lengthAdjust="spacingAndGlyphs">Handling</text>
<text x="652.7" y="580" font-size="9" text-anchor="middle" fill="#343436" textLength="15.4" lengthAdjust="spacingAndGlyphs">Unit</text>
<text x="703.4" y="562" font-size="9" text-anchor="middle" fill="#343436" textLength="26.6" lengthAdjust="spacingAndGlyphs">Supply</text>
<text x="703.4" y="571" font-size="9" text-anchor="middle" fill="#343436" textLength="14.5" lengthAdjust="spacingAndGlyphs">and</text>
<text x="703.4" y="580" font-size="9" text-anchor="middle" fill="#343436" textLength="31.4" lengthAdjust="spacingAndGlyphs">Exhaust</text>
<text x="703.4" y="590" font-size="9" text-anchor="middle" fill="#343436" textLength="32.8" lengthAdjust="spacingAndGlyphs">Fan Unit</text>
<text x="748.0" y="562" font-size="9" text-anchor="middle" fill="#343436" textLength="30.4" lengthAdjust="spacingAndGlyphs">Lighting</text>
<text x="748.0" y="571" font-size="9" text-anchor="middle" fill="#343436" textLength="24.6" lengthAdjust="spacingAndGlyphs">Circuit</text>
<text transform="translate(588.60,580.40) rotate(-90)" font-size="9" fill="#343436" textLength="44.4" lengthAdjust="spacingAndGlyphs">Heat Meter</text>
<text transform="translate(606.20,597.30) rotate(-90)" font-size="9" fill="#343436" textLength="62.0" lengthAdjust="spacingAndGlyphs">Pressure Gauge</text>
<text transform="translate(625.00,590.00) rotate(-90)" font-size="9" fill="#343436" textLength="54.0" lengthAdjust="spacingAndGlyphs">Thermometer</text>
<polygon points="841.30,286.90 852.80,287.60 854.00,289.00 854.00,328.80 852.60,330.30 841.30,330.30" fill="#e0e2e4"/>
<polygon points="851.60,287.50 852.80,287.60 854.00,289.00 854.00,328.80 852.60,330.30 851.60,330.30" fill="#d0d2d4"/>
<rect x="844.90" y="291.60" width="1.00" height="1.60" fill="#8c8c8e"/>
<rect x="844.90" y="323.80" width="1.00" height="1.60" fill="#8c8c8e"/>
<rect x="853.00" y="316.60" width="1.00" height="2.60" fill="#c0c2c4"/>
<path d="M845.6,303.2 l1.8,4.2 M848.2,301.8 l1.4,2.6" fill="none" stroke="#d0d2d4" stroke-width="0.5"/>
<rect x="830.90" y="287.20" width="14.00" height="10.20" fill="#f0ebdf"/>
<rect x="830.90" y="317.60" width="11.40" height="12.70" fill="#f0ebdf"/>
<rect x="842.30" y="317.60" width="2.60" height="12.70" fill="#e6e2d8"/>
<rect x="826.90" y="297.10" width="14.40" height="20.70" fill="#f4f0e6"/>
<rect x="841.30" y="297.10" width="3.60" height="20.70" fill="#e9e6de"/>
<rect x="830.90" y="296.80" width="14.00" height="0.60" fill="#d9d4c6"/>
<rect x="826.90" y="317.40" width="17.00" height="0.60" fill="#d6d1c3"/>
<rect x="832.00" y="288.80" width="1.50" height="1.70" fill="#96928a"/>
<rect x="832.00" y="326.20" width="1.50" height="1.70" fill="#96928a"/>
<rect x="835.40" y="288.80" width="1.50" height="1.70" fill="#96928a"/>
<rect x="835.40" y="326.20" width="1.50" height="1.70" fill="#96928a"/>
<rect x="827.20" y="299.00" width="6.20" height="1.00" fill="#3f6fc4"/>
<rect x="829.50" y="302.80" width="2.30" height="2.40" fill="#e4e2dc" stroke="#a8a69e" stroke-width="0.3"/>
<rect x="830.10" y="303.40" width="1.10" height="1.20" fill="#3a8a4a"/>
<rect x="835.80" y="300.00" width="1.90" height="1.90" fill="#a83442"/>
<rect x="835.00" y="303.60" width="4.60" height="0.40" fill="#c4beb0"/>
<rect x="835.00" y="305.10" width="4.60" height="0.40" fill="#c4beb0"/>
<rect x="835.00" y="306.60" width="4.60" height="0.40" fill="#c4beb0"/>
<rect x="833.80" y="309.30" width="6.30" height="2.50" fill="#fbfaf6" stroke="#dcd8cc" stroke-width="0.3"/>
<path d="M826.6,309.0 h5.4 a0.9,0.9 0 0 1 0.9,0.9 v5.6 l-2.2,2.0 h-3.6 l-2.2,-2.6 l1.0,-1.2 Z" fill="#1f64cc"/>
<rect x="827.60" y="309.60" width="2.00" height="3.60" fill="#4a88e6"/>
<rect x="828.60" y="317.00" width="2.80" height="0.90" fill="#b8783a"/>
<text x="840.5" y="342" font-size="11.7" text-anchor="middle" fill="#4b4b4d" textLength="29.2" lengthAdjust="spacingAndGlyphs">Smart</text>
<text x="840.8" y="354" font-size="11.7" text-anchor="middle" fill="#4b4b4d" textLength="71.6" lengthAdjust="spacingAndGlyphs">Circuit Breaker</text>
<rect x="913.20" y="333.40" width="17.40" height="46.60" fill="#a9a9ab"/>
<rect x="913.20" y="333.40" width="17.40" height="0.80" fill="#8c8c8e"/>
<circle cx="914.60" cy="334.90" r="0.55" fill="#5c5c5e"/>
<circle cx="929.30" cy="334.90" r="0.55" fill="#5c5c5e"/>
<circle cx="914.60" cy="377.90" r="0.55" fill="#5c5c5e"/>
<circle cx="929.30" cy="377.90" r="0.55" fill="#5c5c5e"/>
<rect x="914.60" y="342.00" width="14.60" height="1.00" fill="#8e8e90"/>
<rect x="913.60" y="343.60" width="16.60" height="22.60" fill="#ececee"/>
<rect x="913.60" y="344.80" width="16.60" height="1.60" fill="#3a6cc0"/>
<rect x="915.90" y="351.20" width="0.90" height="2.00" fill="#c8505a"/>
<rect x="919.00" y="351.20" width="0.90" height="2.00" fill="#c8505a"/>
<rect x="915.90" y="355.00" width="0.90" height="2.00" fill="#4a9a5a"/>
<rect x="919.00" y="355.00" width="0.90" height="2.00" fill="#c8505a"/>
<circle cx="925.6" cy="353.6" r="1.9" fill="none" stroke="#9a9a9c" stroke-width="0.5"/>
<rect x="918.6" y="360.0" width="4.2" height="3.4" rx="0.8" fill="#2f6dcc"/>
<circle cx="925.20" cy="361.40" r="1.70" fill="#c2ad4a"/>
<rect x="914.80" y="366.60" width="14.20" height="0.90" fill="#8a8a8c"/>
<rect x="914.20" y="368.00" width="15.40" height="10.60" fill="#a2a2a4"/>
<rect x="919.40" y="379.60" width="5.00" height="1.90" fill="#3a5ea8"/>
<text x="925.2" y="398" font-size="11.7" text-anchor="middle" fill="#4b4b4d" textLength="43.5" lengthAdjust="spacingAndGlyphs">Arc Fault</text>
<text x="925.2" y="410" font-size="11.7" text-anchor="middle" fill="#4b4b4d" textLength="43.0" lengthAdjust="spacingAndGlyphs">Detector</text>
<polygon points="821.90,381.60 826.70,381.00 826.70,422.60 821.90,421.00" fill="#68686a"/>
<rect x="826.70" y="386.20" width="31.10" height="35.80" fill="#e7e9eb"/>
<polygon points="821.90,381.60 824.20,380.40 856.00,380.40 857.00,381.80 857.00,387.20 826.70,387.20 821.90,386.20" fill="#2b2b2d"/>
<circle cx="829.80" cy="383.60" r="2.10" fill="#151517"/>
<circle cx="829.80" cy="383.20" r="1.00" fill="#4a4a4c"/>
<circle cx="837.40" cy="383.60" r="2.10" fill="#151517"/>
<circle cx="837.40" cy="383.20" r="1.00" fill="#4a4a4c"/>
<circle cx="845.00" cy="383.60" r="2.10" fill="#151517"/>
<circle cx="845.00" cy="383.20" r="1.00" fill="#4a4a4c"/>
<circle cx="852.60" cy="383.60" r="2.10" fill="#151517"/>
<circle cx="852.60" cy="383.20" r="1.00" fill="#4a4a4c"/>
<rect x="829.90" y="389.10" width="26.30" height="7.20" fill="#b9b9bb"/>
<rect x="837.80" y="390.90" width="9.80" height="3.60" fill="#8f9a8c"/>
<rect x="831.60" y="391.20" width="3.20" height="2.80" fill="#cfcfd1"/>
<circle cx="852.20" cy="392.60" r="2.00" fill="#8aa0d0" stroke="#6a80b8" stroke-width="0.5"/>
<rect x="827.40" y="397.20" width="29.80" height="0.60" fill="#c4c6c8"/>
<rect x="828.00" y="402.00" width="4.60" height="1.00" fill="#3a6cc0"/>
<rect x="849.40" y="401.80" width="6.40" height="1.00" fill="#7aa0e0"/>
<path d="M835.2,404.6 q2.6,-1.6 4.8,-0.6 v13.0 q-2.6,0.6 -4.8,-0.8 Z" fill="#c6c8ca"/>
<rect x="840.2" y="403.8" width="7.4" height="12.6" rx="0.8" fill="#3b3b3d"/>
<rect x="841.40" y="408.40" width="5.00" height="4.40" fill="#232325"/>
<rect x="846.60" y="409.40" width="1.80" height="1.60" fill="#1a1a1c"/>
<rect x="848.60" y="404.40" width="7.60" height="12.40" fill="#eef0f2"/>
<rect x="830.60" y="421.60" width="2.00" height="2.40" fill="#3c3c3e"/>
<rect x="838.80" y="421.60" width="2.00" height="2.40" fill="#3c3c3e"/>
<rect x="846.40" y="421.60" width="2.00" height="2.40" fill="#3c3c3e"/>
<rect x="853.40" y="421.60" width="2.00" height="2.40" fill="#3c3c3e"/>
<rect x="826.70" y="420.80" width="31.10" height="1.20" fill="#c9cbcd"/>
<rect x="836.60" y="419.80" width="1.80" height="1.60" fill="#e08a3a"/>
<text x="840.5" y="438" font-size="11.7" text-anchor="middle" fill="#4b4b4d" textLength="68.8" lengthAdjust="spacingAndGlyphs">Smart Molded</text>
<text x="840.6" y="450" font-size="11.7" text-anchor="middle" fill="#4b4b4d" textLength="58.6" lengthAdjust="spacingAndGlyphs">Case Circuit</text>
<text x="841.0" y="462" font-size="11.7" text-anchor="middle" fill="#4b4b4d" textLength="37.3" lengthAdjust="spacingAndGlyphs">Breaker</text>
<rect x="906.00" y="437.60" width="31.70" height="42.20" fill="#a5a5a7"/>
<rect x="906.00" y="437.60" width="31.70" height="0.80" fill="#8a8a8c"/>
<rect x="907.00" y="439.00" width="2.60" height="7.40" fill="#c4c4c6"/>
<rect x="910.60" y="441.20" width="26.00" height="0.80" fill="#8c8c8e"/>
<rect x="923.80" y="445.80" width="1.30" height="1.30" fill="#2a2a2c"/>
<rect x="925.90" y="445.80" width="1.30" height="1.30" fill="#2a2a2c"/>
<rect x="928.00" y="445.80" width="1.30" height="1.30" fill="#2a2a2c"/>
<rect x="930.10" y="445.80" width="1.30" height="1.30" fill="#2a2a2c"/>
<rect x="932.20" y="445.80" width="1.30" height="1.30" fill="#2a2a2c"/>
<rect x="906.40" y="449.00" width="30.90" height="19.00" fill="#eeeef0"/>
<rect x="906.40" y="449.00" width="30.90" height="1.30" fill="#3a6cc0"/>
<rect x="917.40" y="451.20" width="1.00" height="1.30" fill="#cc4a54"/>
<rect x="920.40" y="451.20" width="1.00" height="1.30" fill="#cc4a54"/>
<rect x="923.40" y="451.20" width="1.00" height="1.30" fill="#cc4a54"/>
<rect x="926.40" y="451.20" width="1.00" height="1.30" fill="#cc4a54"/>
<rect x="929.40" y="451.20" width="1.00" height="1.30" fill="#4a9a5a"/>
<rect x="932.40" y="451.20" width="1.00" height="1.30" fill="#cc4a54"/>
<rect x="914.00" y="454.20" width="21.80" height="6.50" fill="#9c9c9e"/>
<rect x="907.60" y="452.60" width="3.80" height="0.60" fill="#8a8a8c"/>
<rect x="907.60" y="454.90" width="3.80" height="0.60" fill="#8a8a8c"/>
<rect x="907.60" y="457.20" width="3.80" height="0.60" fill="#8a8a8c"/>
<rect x="907.60" y="459.50" width="3.80" height="0.60" fill="#8a8a8c"/>
<circle cx="912.6" cy="464.6" r="1.5" fill="none" stroke="#6a6a6c" stroke-width="0.5"/>
<rect x="916.80" y="462.80" width="0.70" height="3.40" fill="#cc4a54"/>
<rect x="920.0" y="462.6" width="3.9" height="3.6" rx="0.6" fill="#2f6dcc"/>
<rect x="925.6" y="462.6" width="3.9" height="3.6" rx="0.6" fill="#2f6dcc"/>
<rect x="931.2" y="462.6" width="3.9" height="3.6" rx="0.6" fill="#2f6dcc"/>
<rect x="906.00" y="468.00" width="31.70" height="11.80" fill="#8f8f91"/>
<rect x="911.20" y="470.00" width="1.30" height="1.30" fill="#2a2a2c"/>
<rect x="913.30" y="470.00" width="1.30" height="1.30" fill="#2a2a2c"/>
<rect x="915.40" y="470.00" width="1.30" height="1.30" fill="#2a2a2c"/>
<rect x="917.50" y="470.00" width="1.30" height="1.30" fill="#2a2a2c"/>
<rect x="919.60" y="470.00" width="1.30" height="1.30" fill="#2a2a2c"/>
<rect x="921.70" y="470.00" width="1.30" height="1.30" fill="#2a2a2c"/>
<rect x="923.80" y="470.00" width="1.30" height="1.30" fill="#2a2a2c"/>
<rect x="925.90" y="470.00" width="1.30" height="1.30" fill="#2a2a2c"/>
<rect x="928.00" y="470.00" width="1.30" height="1.30" fill="#2a2a2c"/>
<rect x="930.10" y="470.00" width="1.30" height="1.30" fill="#2a2a2c"/>
<rect x="907.00" y="473.60" width="29.70" height="0.70" fill="#77777a"/>
<circle cx="908.00" cy="478.00" r="0.60" fill="#4a4a4c"/>
<circle cx="935.70" cy="478.00" r="0.60" fill="#4a4a4c"/>
<rect x="919.1" y="479.4" width="4.8" height="2.6" fill="#f4f4f6" stroke="#2a4a8c" stroke-width="0.7"/>
<text x="924.8" y="500" font-size="11.7" text-anchor="middle" fill="#4b4b4d" textLength="65.7" lengthAdjust="spacingAndGlyphs">Electrical Fire</text>
<text x="924.9" y="512" font-size="11.7" text-anchor="middle" fill="#4b4b4d" textLength="55.2" lengthAdjust="spacingAndGlyphs">Monitoring</text>
<text x="924.9" y="523" font-size="11.7" text-anchor="middle" fill="#4b4b4d" textLength="40.7" lengthAdjust="spacingAndGlyphs">Terminal</text>
<polygon points="821.90,500.20 852.60,499.40 860.20,503.00 860.20,540.00 856.60,545.00 829.60,545.20 821.40,541.60 819.20,536.00 819.20,508.00" fill="#34373c"/>
<polygon points="821.90,500.20 852.60,499.40 860.20,503.00 831.00,504.20" fill="#54585e"/>
<polygon points="830.20,504.40 854.60,502.40 855.20,508.20 831.60,510.40" fill="#c3c3c5"/>
<polygon points="830.40,505.40 854.70,503.40 854.80,504.60 830.80,506.60" fill="#e6e6e8"/>
<polygon points="831.00,508.20 855.10,506.20 855.20,507.20 831.20,509.20" fill="#9a9a9c"/>
<polygon points="830.70,510.60 857.80,510.20 857.80,539.40 830.70,539.80" fill="#6f8797"/>
<polygon points="855.40,510.20 857.80,510.20 857.80,539.40 855.40,539.40" fill="#5b7080"/>
<rect x="838.00" y="510.60" width="11.80" height="3.60" fill="#e6d232"/>
<rect x="840.60" y="511.40" width="1.40" height="2.00" fill="#c8a820"/>
<rect x="844.00" y="511.40" width="1.40" height="2.00" fill="#c8a820"/>
<rect x="834.60" y="516.80" width="14.00" height="0.80" fill="#5a8ad8"/>
<rect x="850.30" y="516.40" width="1.90" height="20.00" fill="#2a6bd2"/>
<rect x="849.70" y="516.00" width="3.00" height="1.40" fill="#1c1c1e"/>
<rect x="849.90" y="536.00" width="2.60" height="1.60" fill="#1c1c1e"/>
<circle cx="836.60" cy="519.60" r="0.60" fill="#d08a5a"/>
<rect x="841.8" y="521.5" width="2.8" height="2.7" rx="0.6" fill="#d0303c"/>
<rect x="846.4" y="521.2" width="2.8" height="2.7" rx="0.6" fill="#2fa04e"/>
<rect x="835.00" y="524.00" width="3.80" height="4.00" fill="#1b1b1d"/>
<rect x="835.80" y="524.80" width="1.20" height="2.40" fill="#5a5a5c"/>
<rect x="835.00" y="529.00" width="3.80" height="8.40" fill="#8c9aa4"/>
<rect x="835.40" y="529.80" width="3.00" height="0.60" fill="#6a7680"/>
<rect x="835.40" y="531.70" width="3.00" height="0.60" fill="#6a7680"/>
<rect x="835.40" y="533.60" width="3.00" height="0.60" fill="#6a7680"/>
<rect x="835.40" y="535.50" width="3.00" height="0.60" fill="#6a7680"/>
<rect x="842.00" y="526.00" width="2.20" height="2.00" fill="#5aa85a"/>
<rect x="845.00" y="526.00" width="4.00" height="2.00" fill="#d6dade"/>
<rect x="842.00" y="529.00" width="7.00" height="0.60" fill="#9aaab4"/>
<rect x="853.40" y="520.00" width="3.20" height="6.00" fill="#8496a4"/>
<polygon points="819.20,508.00 822.60,507.00 822.60,513.00 819.20,514.00" fill="#1f2124"/>
<polygon points="819.20,528.00 822.60,527.00 822.60,534.00 819.20,535.00" fill="#1f2124"/>
<polygon points="822.00,503.00 825.60,503.00 826.20,509.00 823.00,510.00" fill="#1f2124"/>
<polygon points="829.60,540.00 858.60,539.60 856.60,545.00 829.60,545.20" fill="#2a2c30"/>
<rect x="836.00" y="541.60" width="1.30" height="1.60" fill="#6a6e74"/>
<rect x="842.00" y="541.60" width="1.30" height="1.60" fill="#6a6e74"/>
<rect x="848.00" y="541.60" width="1.30" height="1.60" fill="#6a6e74"/>
<rect x="853.00" y="541.60" width="1.30" height="1.60" fill="#6a6e74"/>
<polygon points="826.60,538.00 829.60,539.00 829.60,545.00 827.00,544.00" fill="#b8b0c0" opacity="0.7"/>
<text x="868.2" y="562" font-size="11.7" text-anchor="middle" fill="#4b4b4d" textLength="120.4" lengthAdjust="spacingAndGlyphs">Smart Air Circuit Breaker</text>
</svg>
</body>
</html>
